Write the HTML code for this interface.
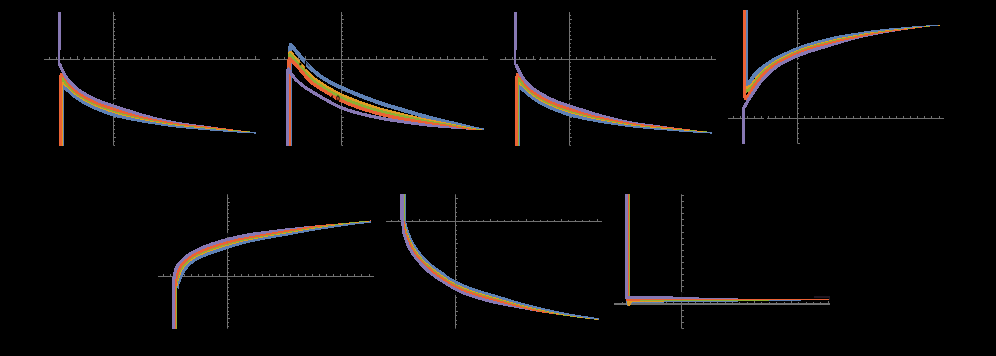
<!DOCTYPE html>
<html><head><meta charset="utf-8"><title>plots</title>
<style>html,body{margin:0;padding:0;background:#000;font-family:"Liberation Sans",sans-serif;}body{width:996px;height:356px;overflow:hidden}</style></head>
<body>
<svg width="996" height="356" viewBox="0 0 996 356" style="display:block">
<rect width="996" height="356" fill="#000"/>
<g fill="#717171">
<rect x="44" y="59" width="36" height="1"/>
<rect x="83" y="59" width="177" height="1"/>
<rect x="113" y="12.00" width="1" height="133.60"/>
<rect x="49" y="57" width="1" height="2"/>
<rect x="56" y="57" width="1" height="2"/>
<rect x="63" y="57" width="1" height="2"/>
<rect x="70" y="57" width="1" height="2"/>
<rect x="77" y="56" width="1" height="3"/>
<rect x="84" y="57" width="1" height="2"/>
<rect x="91" y="57" width="1" height="2"/>
<rect x="98" y="57" width="1" height="2"/>
<rect x="105" y="57" width="1" height="2"/>
<rect x="120" y="57" width="1" height="2"/>
<rect x="127" y="57" width="1" height="2"/>
<rect x="134" y="57" width="1" height="2"/>
<rect x="141" y="57" width="1" height="2"/>
<rect x="148" y="56" width="1" height="3"/>
<rect x="155" y="57" width="1" height="2"/>
<rect x="162" y="57" width="1" height="2"/>
<rect x="169" y="57" width="1" height="2"/>
<rect x="176" y="57" width="1" height="2"/>
<rect x="184" y="56" width="1" height="3"/>
<rect x="191" y="57" width="1" height="2"/>
<rect x="198" y="57" width="1" height="2"/>
<rect x="205" y="57" width="1" height="2"/>
<rect x="212" y="57" width="1" height="2"/>
<rect x="219" y="56" width="1" height="3"/>
<rect x="226" y="57" width="1" height="2"/>
<rect x="233" y="57" width="1" height="2"/>
<rect x="240" y="57" width="1" height="2"/>
<rect x="247" y="57" width="1" height="2"/>
<rect x="255" y="56" width="1" height="3"/>
<rect x="114" y="15" width="1" height="1"/>
<rect x="114" y="19" width="2" height="1"/>
<rect x="114" y="23" width="1" height="1"/>
<rect x="114" y="27" width="1" height="1"/>
<rect x="114" y="31" width="1" height="1"/>
<rect x="114" y="35" width="1" height="1"/>
<rect x="114" y="39" width="2" height="1"/>
<rect x="114" y="43" width="1" height="1"/>
<rect x="114" y="47" width="1" height="1"/>
<rect x="114" y="51" width="1" height="1"/>
<rect x="114" y="55" width="1" height="1"/>
<rect x="114" y="62" width="1" height="1"/>
<rect x="114" y="66" width="1" height="1"/>
<rect x="114" y="70" width="1" height="1"/>
<rect x="114" y="74" width="1" height="1"/>
<rect x="114" y="78" width="2" height="1"/>
<rect x="114" y="82" width="1" height="1"/>
<rect x="114" y="86" width="1" height="1"/>
<rect x="114" y="90" width="1" height="1"/>
<rect x="114" y="94" width="1" height="1"/>
<rect x="114" y="98" width="2" height="1"/>
<rect x="114" y="102" width="1" height="1"/>
<rect x="114" y="106" width="1" height="1"/>
<rect x="114" y="109" width="1" height="1"/>
<rect x="114" y="113" width="1" height="1"/>
<rect x="114" y="117" width="2" height="1"/>
<rect x="114" y="121" width="1" height="1"/>
<rect x="114" y="125" width="1" height="1"/>
<rect x="114" y="129" width="1" height="1"/>
<rect x="114" y="133" width="1" height="1"/>
<rect x="114" y="137" width="2" height="1"/>
<rect x="114" y="141" width="1" height="1"/>
<rect x="114" y="145" width="1" height="1"/>
<rect x="272" y="59" width="216" height="1"/>
<rect x="341" y="12.00" width="1" height="133.60"/>
<rect x="277" y="57" width="1" height="2"/>
<rect x="284" y="57" width="1" height="2"/>
<rect x="291" y="57" width="1" height="2"/>
<rect x="298" y="57" width="1" height="2"/>
<rect x="305" y="56" width="1" height="3"/>
<rect x="312" y="57" width="1" height="2"/>
<rect x="319" y="57" width="1" height="2"/>
<rect x="326" y="57" width="1" height="2"/>
<rect x="333" y="57" width="1" height="2"/>
<rect x="348" y="57" width="1" height="2"/>
<rect x="355" y="57" width="1" height="2"/>
<rect x="362" y="57" width="1" height="2"/>
<rect x="369" y="57" width="1" height="2"/>
<rect x="376" y="56" width="1" height="3"/>
<rect x="383" y="57" width="1" height="2"/>
<rect x="390" y="57" width="1" height="2"/>
<rect x="397" y="57" width="1" height="2"/>
<rect x="404" y="57" width="1" height="2"/>
<rect x="412" y="56" width="1" height="3"/>
<rect x="419" y="57" width="1" height="2"/>
<rect x="426" y="57" width="1" height="2"/>
<rect x="433" y="57" width="1" height="2"/>
<rect x="440" y="57" width="1" height="2"/>
<rect x="447" y="56" width="1" height="3"/>
<rect x="454" y="57" width="1" height="2"/>
<rect x="461" y="57" width="1" height="2"/>
<rect x="468" y="57" width="1" height="2"/>
<rect x="475" y="57" width="1" height="2"/>
<rect x="483" y="56" width="1" height="3"/>
<rect x="342" y="15" width="1" height="1"/>
<rect x="342" y="19" width="2" height="1"/>
<rect x="342" y="23" width="1" height="1"/>
<rect x="342" y="27" width="1" height="1"/>
<rect x="342" y="31" width="1" height="1"/>
<rect x="342" y="35" width="1" height="1"/>
<rect x="342" y="39" width="2" height="1"/>
<rect x="342" y="43" width="1" height="1"/>
<rect x="342" y="47" width="1" height="1"/>
<rect x="342" y="51" width="1" height="1"/>
<rect x="342" y="55" width="1" height="1"/>
<rect x="342" y="62" width="1" height="1"/>
<rect x="342" y="66" width="1" height="1"/>
<rect x="342" y="70" width="1" height="1"/>
<rect x="342" y="74" width="1" height="1"/>
<rect x="342" y="78" width="2" height="1"/>
<rect x="342" y="82" width="1" height="1"/>
<rect x="342" y="86" width="1" height="1"/>
<rect x="342" y="90" width="1" height="1"/>
<rect x="342" y="94" width="1" height="1"/>
<rect x="342" y="98" width="2" height="1"/>
<rect x="342" y="102" width="1" height="1"/>
<rect x="342" y="106" width="1" height="1"/>
<rect x="342" y="109" width="1" height="1"/>
<rect x="342" y="113" width="1" height="1"/>
<rect x="342" y="117" width="2" height="1"/>
<rect x="342" y="121" width="1" height="1"/>
<rect x="342" y="125" width="1" height="1"/>
<rect x="342" y="129" width="1" height="1"/>
<rect x="342" y="133" width="1" height="1"/>
<rect x="342" y="137" width="2" height="1"/>
<rect x="342" y="141" width="1" height="1"/>
<rect x="342" y="145" width="1" height="1"/>
<rect x="500" y="59" width="36" height="1"/>
<rect x="539" y="59" width="177" height="1"/>
<rect x="569" y="12.00" width="1" height="133.60"/>
<rect x="505" y="57" width="1" height="2"/>
<rect x="512" y="57" width="1" height="2"/>
<rect x="519" y="57" width="1" height="2"/>
<rect x="526" y="57" width="1" height="2"/>
<rect x="533" y="56" width="1" height="3"/>
<rect x="540" y="57" width="1" height="2"/>
<rect x="547" y="57" width="1" height="2"/>
<rect x="554" y="57" width="1" height="2"/>
<rect x="561" y="57" width="1" height="2"/>
<rect x="576" y="57" width="1" height="2"/>
<rect x="583" y="57" width="1" height="2"/>
<rect x="590" y="57" width="1" height="2"/>
<rect x="597" y="57" width="1" height="2"/>
<rect x="604" y="56" width="1" height="3"/>
<rect x="611" y="57" width="1" height="2"/>
<rect x="618" y="57" width="1" height="2"/>
<rect x="625" y="57" width="1" height="2"/>
<rect x="632" y="57" width="1" height="2"/>
<rect x="640" y="56" width="1" height="3"/>
<rect x="647" y="57" width="1" height="2"/>
<rect x="654" y="57" width="1" height="2"/>
<rect x="661" y="57" width="1" height="2"/>
<rect x="668" y="57" width="1" height="2"/>
<rect x="675" y="56" width="1" height="3"/>
<rect x="682" y="57" width="1" height="2"/>
<rect x="689" y="57" width="1" height="2"/>
<rect x="696" y="57" width="1" height="2"/>
<rect x="703" y="57" width="1" height="2"/>
<rect x="711" y="56" width="1" height="3"/>
<rect x="570" y="15" width="1" height="1"/>
<rect x="570" y="19" width="2" height="1"/>
<rect x="570" y="23" width="1" height="1"/>
<rect x="570" y="27" width="1" height="1"/>
<rect x="570" y="31" width="1" height="1"/>
<rect x="570" y="35" width="1" height="1"/>
<rect x="570" y="39" width="2" height="1"/>
<rect x="570" y="43" width="1" height="1"/>
<rect x="570" y="47" width="1" height="1"/>
<rect x="570" y="51" width="1" height="1"/>
<rect x="570" y="55" width="1" height="1"/>
<rect x="570" y="62" width="1" height="1"/>
<rect x="570" y="66" width="1" height="1"/>
<rect x="570" y="70" width="1" height="1"/>
<rect x="570" y="74" width="1" height="1"/>
<rect x="570" y="78" width="2" height="1"/>
<rect x="570" y="82" width="1" height="1"/>
<rect x="570" y="86" width="1" height="1"/>
<rect x="570" y="90" width="1" height="1"/>
<rect x="570" y="94" width="1" height="1"/>
<rect x="570" y="98" width="2" height="1"/>
<rect x="570" y="102" width="1" height="1"/>
<rect x="570" y="106" width="1" height="1"/>
<rect x="570" y="109" width="1" height="1"/>
<rect x="570" y="113" width="1" height="1"/>
<rect x="570" y="117" width="2" height="1"/>
<rect x="570" y="121" width="1" height="1"/>
<rect x="570" y="125" width="1" height="1"/>
<rect x="570" y="129" width="1" height="1"/>
<rect x="570" y="133" width="1" height="1"/>
<rect x="570" y="137" width="2" height="1"/>
<rect x="570" y="141" width="1" height="1"/>
<rect x="570" y="145" width="1" height="1"/>
<rect x="728" y="118" width="36" height="1"/>
<rect x="767" y="118" width="177" height="1"/>
<rect x="797" y="10.00" width="1" height="133.60"/>
<rect x="733" y="116" width="1" height="2"/>
<rect x="740" y="116" width="1" height="2"/>
<rect x="747" y="116" width="1" height="2"/>
<rect x="754" y="116" width="1" height="2"/>
<rect x="761" y="116" width="1" height="2"/>
<rect x="768" y="116" width="1" height="2"/>
<rect x="775" y="116" width="1" height="2"/>
<rect x="782" y="116" width="1" height="2"/>
<rect x="789" y="116" width="1" height="2"/>
<rect x="804" y="116" width="1" height="2"/>
<rect x="811" y="116" width="1" height="2"/>
<rect x="818" y="116" width="1" height="2"/>
<rect x="825" y="116" width="1" height="2"/>
<rect x="832" y="116" width="1" height="2"/>
<rect x="839" y="116" width="1" height="2"/>
<rect x="846" y="116" width="1" height="2"/>
<rect x="853" y="116" width="1" height="2"/>
<rect x="860" y="116" width="1" height="2"/>
<rect x="868" y="116" width="1" height="2"/>
<rect x="875" y="116" width="1" height="2"/>
<rect x="882" y="116" width="1" height="2"/>
<rect x="889" y="116" width="1" height="2"/>
<rect x="896" y="116" width="1" height="2"/>
<rect x="903" y="116" width="1" height="2"/>
<rect x="910" y="116" width="1" height="2"/>
<rect x="917" y="116" width="1" height="2"/>
<rect x="924" y="116" width="1" height="2"/>
<rect x="931" y="116" width="1" height="2"/>
<rect x="939" y="116" width="1" height="2"/>
<rect x="798" y="13" width="1" height="1"/>
<rect x="798" y="18" width="2" height="1"/>
<rect x="798" y="23" width="1" height="1"/>
<rect x="798" y="28" width="1" height="1"/>
<rect x="798" y="33" width="1" height="1"/>
<rect x="798" y="38" width="1" height="1"/>
<rect x="798" y="43" width="2" height="1"/>
<rect x="798" y="48" width="1" height="1"/>
<rect x="798" y="53" width="1" height="1"/>
<rect x="798" y="58" width="1" height="1"/>
<rect x="798" y="63" width="1" height="1"/>
<rect x="798" y="68" width="2" height="1"/>
<rect x="798" y="73" width="1" height="1"/>
<rect x="798" y="78" width="1" height="1"/>
<rect x="798" y="83" width="1" height="1"/>
<rect x="798" y="88" width="1" height="1"/>
<rect x="798" y="93" width="2" height="1"/>
<rect x="798" y="98" width="1" height="1"/>
<rect x="798" y="103" width="1" height="1"/>
<rect x="798" y="108" width="1" height="1"/>
<rect x="798" y="113" width="1" height="1"/>
<rect x="798" y="123" width="1" height="1"/>
<rect x="798" y="128" width="1" height="1"/>
<rect x="798" y="133" width="1" height="1"/>
<rect x="798" y="138" width="1" height="1"/>
<rect x="798" y="143" width="2" height="1"/>
<rect x="158" y="276" width="216" height="1"/>
<rect x="227" y="194.30" width="1" height="134.30"/>
<rect x="163" y="274" width="1" height="2"/>
<rect x="170" y="274" width="1" height="2"/>
<rect x="177" y="274" width="1" height="2"/>
<rect x="184" y="274" width="1" height="2"/>
<rect x="191" y="274" width="1" height="2"/>
<rect x="198" y="274" width="1" height="2"/>
<rect x="205" y="274" width="1" height="2"/>
<rect x="212" y="274" width="1" height="2"/>
<rect x="219" y="274" width="1" height="2"/>
<rect x="234" y="274" width="1" height="2"/>
<rect x="241" y="274" width="1" height="2"/>
<rect x="248" y="274" width="1" height="2"/>
<rect x="255" y="274" width="1" height="2"/>
<rect x="262" y="274" width="1" height="2"/>
<rect x="269" y="274" width="1" height="2"/>
<rect x="276" y="274" width="1" height="2"/>
<rect x="283" y="274" width="1" height="2"/>
<rect x="290" y="274" width="1" height="2"/>
<rect x="298" y="274" width="1" height="2"/>
<rect x="305" y="274" width="1" height="2"/>
<rect x="312" y="274" width="1" height="2"/>
<rect x="319" y="274" width="1" height="2"/>
<rect x="326" y="274" width="1" height="2"/>
<rect x="333" y="274" width="1" height="2"/>
<rect x="340" y="274" width="1" height="2"/>
<rect x="347" y="274" width="1" height="2"/>
<rect x="354" y="274" width="1" height="2"/>
<rect x="361" y="274" width="1" height="2"/>
<rect x="369" y="274" width="1" height="2"/>
<rect x="228" y="198" width="1" height="1"/>
<rect x="228" y="202" width="2" height="1"/>
<rect x="228" y="205" width="1" height="1"/>
<rect x="228" y="209" width="1" height="1"/>
<rect x="228" y="213" width="1" height="1"/>
<rect x="228" y="217" width="1" height="1"/>
<rect x="228" y="221" width="2" height="1"/>
<rect x="228" y="225" width="1" height="1"/>
<rect x="228" y="229" width="1" height="1"/>
<rect x="228" y="233" width="1" height="1"/>
<rect x="228" y="237" width="1" height="1"/>
<rect x="228" y="240" width="2" height="1"/>
<rect x="228" y="244" width="1" height="1"/>
<rect x="228" y="248" width="1" height="1"/>
<rect x="228" y="252" width="1" height="1"/>
<rect x="228" y="256" width="1" height="1"/>
<rect x="228" y="260" width="2" height="1"/>
<rect x="228" y="264" width="1" height="1"/>
<rect x="228" y="268" width="1" height="1"/>
<rect x="228" y="272" width="1" height="1"/>
<rect x="228" y="279" width="2" height="1"/>
<rect x="228" y="283" width="1" height="1"/>
<rect x="228" y="287" width="1" height="1"/>
<rect x="228" y="291" width="1" height="1"/>
<rect x="228" y="295" width="1" height="1"/>
<rect x="228" y="299" width="2" height="1"/>
<rect x="228" y="303" width="1" height="1"/>
<rect x="228" y="307" width="1" height="1"/>
<rect x="228" y="311" width="1" height="1"/>
<rect x="228" y="314" width="1" height="1"/>
<rect x="228" y="318" width="2" height="1"/>
<rect x="228" y="322" width="1" height="1"/>
<rect x="228" y="326" width="1" height="1"/>
<rect x="386" y="221" width="216" height="1"/>
<rect x="455" y="194.30" width="1" height="134.30"/>
<rect x="391" y="220" width="1" height="1"/>
<rect x="398" y="220" width="1" height="1"/>
<rect x="405" y="220" width="1" height="1"/>
<rect x="412" y="220" width="1" height="1"/>
<rect x="419" y="219" width="1" height="2"/>
<rect x="426" y="220" width="1" height="1"/>
<rect x="433" y="220" width="1" height="1"/>
<rect x="440" y="220" width="1" height="1"/>
<rect x="447" y="220" width="1" height="1"/>
<rect x="462" y="220" width="1" height="1"/>
<rect x="469" y="220" width="1" height="1"/>
<rect x="476" y="220" width="1" height="1"/>
<rect x="483" y="220" width="1" height="1"/>
<rect x="490" y="219" width="1" height="2"/>
<rect x="497" y="220" width="1" height="1"/>
<rect x="504" y="220" width="1" height="1"/>
<rect x="511" y="220" width="1" height="1"/>
<rect x="518" y="220" width="1" height="1"/>
<rect x="526" y="219" width="1" height="2"/>
<rect x="533" y="220" width="1" height="1"/>
<rect x="540" y="220" width="1" height="1"/>
<rect x="547" y="220" width="1" height="1"/>
<rect x="554" y="220" width="1" height="1"/>
<rect x="561" y="219" width="1" height="2"/>
<rect x="568" y="220" width="1" height="1"/>
<rect x="575" y="220" width="1" height="1"/>
<rect x="582" y="220" width="1" height="1"/>
<rect x="589" y="220" width="1" height="1"/>
<rect x="597" y="219" width="1" height="2"/>
<rect x="456" y="198" width="2" height="1"/>
<rect x="456" y="203" width="1" height="1"/>
<rect x="456" y="207" width="1" height="1"/>
<rect x="456" y="212" width="1" height="1"/>
<rect x="456" y="216" width="1" height="1"/>
<rect x="456" y="225" width="1" height="1"/>
<rect x="456" y="230" width="1" height="1"/>
<rect x="456" y="234" width="1" height="1"/>
<rect x="456" y="239" width="1" height="1"/>
<rect x="456" y="243" width="2" height="1"/>
<rect x="456" y="248" width="1" height="1"/>
<rect x="456" y="252" width="1" height="1"/>
<rect x="456" y="257" width="1" height="1"/>
<rect x="456" y="261" width="1" height="1"/>
<rect x="456" y="266" width="2" height="1"/>
<rect x="456" y="270" width="1" height="1"/>
<rect x="456" y="275" width="1" height="1"/>
<rect x="456" y="279" width="1" height="1"/>
<rect x="456" y="284" width="1" height="1"/>
<rect x="456" y="288" width="2" height="1"/>
<rect x="456" y="293" width="1" height="1"/>
<rect x="456" y="297" width="1" height="1"/>
<rect x="456" y="302" width="1" height="1"/>
<rect x="456" y="306" width="1" height="1"/>
<rect x="456" y="311" width="2" height="1"/>
<rect x="456" y="315" width="1" height="1"/>
<rect x="456" y="320" width="1" height="1"/>
<rect x="456" y="324" width="1" height="1"/>
<rect x="614" y="303" width="216" height="2"/>
<rect x="681" y="194.30" width="1" height="134.30"/>
<rect x="622" y="302" width="1" height="1"/>
<rect x="629" y="302" width="1" height="1"/>
<rect x="636" y="302" width="1" height="1"/>
<rect x="644" y="301" width="1" height="2"/>
<rect x="651" y="302" width="1" height="1"/>
<rect x="658" y="302" width="1" height="1"/>
<rect x="666" y="302" width="1" height="1"/>
<rect x="673" y="302" width="1" height="1"/>
<rect x="688" y="302" width="1" height="1"/>
<rect x="695" y="302" width="1" height="1"/>
<rect x="703" y="302" width="1" height="1"/>
<rect x="710" y="302" width="1" height="1"/>
<rect x="717" y="301" width="1" height="2"/>
<rect x="725" y="302" width="1" height="1"/>
<rect x="732" y="302" width="1" height="1"/>
<rect x="739" y="302" width="1" height="1"/>
<rect x="747" y="302" width="1" height="1"/>
<rect x="754" y="301" width="1" height="2"/>
<rect x="761" y="302" width="1" height="1"/>
<rect x="769" y="302" width="1" height="1"/>
<rect x="776" y="302" width="1" height="1"/>
<rect x="784" y="302" width="1" height="1"/>
<rect x="791" y="301" width="1" height="2"/>
<rect x="798" y="302" width="1" height="1"/>
<rect x="806" y="302" width="1" height="1"/>
<rect x="813" y="302" width="1" height="1"/>
<rect x="820" y="302" width="1" height="1"/>
<rect x="828" y="301" width="1" height="2"/>
<rect x="682" y="195" width="2" height="1"/>
<rect x="682" y="201" width="2" height="1"/>
<rect x="682" y="207" width="2" height="1"/>
<rect x="682" y="213" width="2" height="1"/>
<rect x="682" y="219" width="2" height="1"/>
<rect x="682" y="225" width="2" height="1"/>
<rect x="682" y="232" width="2" height="1"/>
<rect x="682" y="238" width="2" height="1"/>
<rect x="682" y="244" width="2" height="1"/>
<rect x="682" y="250" width="2" height="1"/>
<rect x="682" y="256" width="2" height="1"/>
<rect x="682" y="262" width="2" height="1"/>
<rect x="682" y="268" width="2" height="1"/>
<rect x="682" y="274" width="2" height="1"/>
<rect x="682" y="280" width="2" height="1"/>
<rect x="682" y="286" width="2" height="1"/>
<rect x="682" y="292" width="2" height="1"/>
<rect x="682" y="298" width="2" height="1"/>
<rect x="682" y="310" width="2" height="1"/>
<rect x="682" y="316" width="2" height="1"/>
<rect x="682" y="322" width="2" height="1"/>
<rect x="682" y="328" width="2" height="1"/>
</g>
<g fill="none" stroke-linejoin="round" stroke-linecap="butt" shape-rendering="crispEdges">
<path d="M62.05 145.60 L62.05 89.00 L63.70 86.00 L65.12 87.80 L66.71 89.39 L68.54 90.73 L70.36 92.09 L72.05 93.62 L73.72 95.16 L75.48 96.59 L77.30 97.93 L79.17 99.23 L81.07 100.49 L83.01 101.70 L84.97 102.85 L86.95 103.94 L88.96 104.97 L91.01 105.93 L93.09 106.85 L95.19 107.73 L97.30 108.59 L99.42 109.43 L101.53 110.26 L103.64 111.10 L105.76 111.92 L107.90 112.72 L110.04 113.47 L112.20 114.16 L114.37 114.78 L116.56 115.34 L118.78 115.86 L121.00 116.35 L123.22 116.82 L125.44 117.29 L127.67 117.75 L129.89 118.20 L132.12 118.63 L134.35 119.06 L136.58 119.47 L138.82 119.88 L141.05 120.27 L143.29 120.66 L145.53 121.04 L147.77 121.41 L150.01 121.77 L152.25 122.13 L154.49 122.47 L156.74 122.81 L158.98 123.15 L161.23 123.47 L163.48 123.79 L165.73 124.11 L167.97 124.42 L170.22 124.73 L172.48 125.02 L174.73 125.30 L176.98 125.55 L179.24 125.79 L181.50 126.02 L183.76 126.24 L186.02 126.46 L188.28 126.67 L190.54 126.87 L192.80 127.06 L195.07 127.25 L197.33 127.43 L199.59 127.62 L201.85 127.80 L204.12 127.99 L206.38 128.17 L208.64 128.35 L210.90 128.54 L213.17 128.72 L215.43 128.91 L217.69 129.09 L219.95 129.28 L222.22 129.46 L224.48 129.64 L226.74 129.80 L229.01 129.96 L231.27 130.12 L233.54 130.27 L235.80 130.42 L238.07 130.57 L240.33 130.71 L242.60 130.85 L244.87 130.99 L247.13 131.12 L249.40 131.25 L251.67 131.37 L253.93 131.49 L256.20 131.60" stroke="#5E81B5" stroke-width="4.00" />
<path d="M61.05 145.60 L61.05 85.00 L63.00 82.40 L64.78 83.83 L66.57 85.25 L68.34 86.69 L70.07 88.18 L71.72 89.76 L73.35 91.38 L75.05 92.88 L76.84 94.26 L78.70 95.58 L80.61 96.86 L82.55 98.09 L84.52 99.27 L86.51 100.39 L88.51 101.45 L90.55 102.47 L92.62 103.44 L94.71 104.37 L96.82 105.27 L98.94 106.13 L101.05 106.98 L103.18 107.80 L105.32 108.59 L107.48 109.36 L109.64 110.11 L111.81 110.81 L113.99 111.49 L116.17 112.12 L118.38 112.73 L120.59 113.31 L122.80 113.87 L125.01 114.42 L127.23 114.97 L129.45 115.50 L131.67 116.02 L133.90 116.52 L136.13 117.01 L138.36 117.48 L140.60 117.94 L142.84 118.38 L145.08 118.81 L147.32 119.23 L149.57 119.64 L151.81 120.05 L154.06 120.45 L156.31 120.84 L158.56 121.22 L160.81 121.59 L163.07 121.96 L165.32 122.33 L167.57 122.69 L169.83 123.04 L172.09 123.38 L174.35 123.69 L176.61 123.98 L178.87 124.26 L181.14 124.52 L183.41 124.77 L185.68 125.01 L187.95 125.24 L190.22 125.45 L192.50 125.66 L194.77 125.86 L197.05 126.06 L199.32 126.26 L201.59 126.46 L203.87 126.67 L206.14 126.87 L208.41 127.07 L210.69 127.28 L212.96 127.48 L215.23 127.69 L217.50 127.90 L219.78 128.11 L222.05 128.31 L224.33 128.50 L226.60 128.69 L228.87 128.87 L231.15 129.05 L233.43 129.23 L235.70 129.40 L237.98 129.57 L240.25 129.73 L242.53 129.89 L244.81 130.05 L247.09 130.20 L249.36 130.34 L251.64 130.48 L253.92 130.61 L256.20 130.74" stroke="#E19C24" stroke-width="3.40" />
<path d="M60.80 145.60 L60.80 81.50 L62.30 78.85 L63.97 80.45 L65.49 82.18 L66.96 83.96 L68.60 85.58 L70.28 87.17 L71.91 88.82 L73.56 90.45 L75.29 91.94 L77.11 93.34 L79.00 94.68 L80.93 95.96 L82.90 97.19 L84.90 98.37 L86.92 99.50 L88.94 100.58 L91.01 101.61 L93.10 102.59 L95.22 103.54 L97.35 104.45 L99.48 105.32 L101.63 106.17 L103.79 106.98 L105.96 107.77 L108.14 108.53 L110.33 109.26 L112.53 109.97 L114.74 110.65 L116.95 111.31 L119.17 111.94 L121.40 112.54 L123.63 113.14 L125.87 113.72 L128.10 114.29 L130.34 114.85 L132.59 115.39 L134.84 115.92 L137.09 116.43 L139.34 116.92 L141.60 117.39 L143.87 117.85 L146.13 118.29 L148.40 118.73 L150.67 119.16 L152.94 119.59 L155.21 120.00 L157.48 120.41 L159.76 120.81 L162.03 121.20 L164.31 121.58 L166.59 121.97 L168.86 122.34 L171.14 122.70 L173.43 123.04 L175.71 123.36 L178.00 123.65 L180.30 123.93 L182.59 124.19 L184.89 124.45 L187.18 124.69 L189.48 124.92 L191.78 125.14 L194.08 125.34 L196.38 125.55 L198.68 125.75 L200.97 125.97 L203.27 126.18 L205.57 126.39 L207.87 126.60 L210.17 126.82 L212.47 127.03 L214.77 127.24 L217.07 127.46 L219.37 127.68 L221.66 127.89 L223.96 128.10 L226.26 128.30 L228.56 128.49 L230.87 128.68 L233.17 128.86 L235.47 129.05 L237.77 129.22 L240.07 129.40 L242.38 129.56 L244.68 129.73 L246.98 129.88 L249.29 130.03 L251.59 130.18 L253.90 130.32 L256.20 130.45" stroke="#8FB032" stroke-width="3.30" />
<path d="M60.55 145.60 L60.55 77.00 L61.50 74.50 L63.33 75.97 L64.98 77.62 L66.49 79.44 L67.75 81.40 L68.85 83.50 L70.08 85.47 L71.60 87.23 L73.31 88.87 L75.10 90.39 L76.93 91.81 L78.84 93.18 L80.80 94.49 L82.80 95.74 L84.83 96.94 L86.87 98.09 L88.93 99.20 L91.01 100.26 L93.13 101.27 L95.27 102.25 L97.43 103.18 L99.59 104.07 L101.77 104.93 L103.96 105.74 L106.18 106.52 L108.40 107.28 L110.63 108.01 L112.86 108.73 L115.09 109.44 L117.33 110.13 L119.58 110.80 L121.83 111.45 L124.09 112.09 L126.34 112.71 L128.61 113.32 L130.87 113.91 L133.15 114.49 L135.42 115.05 L137.70 115.59 L139.99 116.11 L142.28 116.60 L144.57 117.08 L146.87 117.55 L149.17 118.01 L151.46 118.47 L153.76 118.92 L156.07 119.36 L158.37 119.79 L160.68 120.21 L162.98 120.62 L165.29 121.03 L167.60 121.43 L169.91 121.83 L172.22 122.20 L174.54 122.55 L176.86 122.87 L179.18 123.18 L181.51 123.46 L183.84 123.73 L186.17 123.99 L188.50 124.24 L190.83 124.47 L193.16 124.69 L195.50 124.91 L197.83 125.12 L200.16 125.34 L202.50 125.56 L204.83 125.78 L207.16 126.01 L209.49 126.23 L211.83 126.46 L214.16 126.68 L216.49 126.91 L218.82 127.14 L221.16 127.37 L223.49 127.59 L225.82 127.80 L228.16 128.00 L230.49 128.20 L232.83 128.40 L235.16 128.60 L237.50 128.79 L239.83 128.97 L242.17 129.15 L244.51 129.32 L246.85 129.49 L249.18 129.65 L251.52 129.80 L253.86 129.95 L256.20 130.09" stroke="#EB6235" stroke-width="3.30" />
<path d="M59.60 63.80 L60.43 66.08 L61.45 68.29 L62.53 70.47 L63.63 72.66 L64.76 74.82 L65.99 76.90 L67.38 78.88 L68.93 80.77 L70.53 82.60 L72.16 84.43 L73.86 86.18 L75.67 87.75 L77.58 89.23 L79.57 90.63 L81.63 91.96 L83.73 93.24 L85.84 94.47 L87.96 95.65 L90.09 96.80 L92.26 97.91 L94.46 98.98 L96.67 100.00 L98.91 100.96 L101.16 101.85 L103.44 102.69 L105.74 103.47 L108.05 104.23 L110.37 104.98 L112.69 105.73 L114.99 106.50 L117.30 107.28 L119.60 108.06 L121.91 108.82 L124.23 109.56 L126.55 110.28 L128.88 110.98 L131.21 111.67 L133.55 112.34 L135.90 112.98 L138.25 113.59 L140.61 114.17 L142.98 114.73 L145.35 115.27 L147.72 115.80 L150.10 116.32 L152.47 116.84 L154.85 117.34 L157.23 117.84 L159.62 118.33 L162.00 118.80 L164.39 119.27 L166.77 119.74 L169.16 120.19 L171.56 120.63 L173.95 121.03 L176.35 121.40 L178.76 121.75 L181.17 122.08 L183.58 122.38 L186.00 122.68 L188.41 122.95 L190.83 123.21 L193.25 123.45 L195.67 123.68 L198.09 123.91 L200.51 124.15 L202.93 124.40 L205.35 124.65 L207.77 124.91 L210.19 125.16 L212.61 125.41 L215.02 125.67 L217.44 125.92 L219.86 126.18 L222.28 126.43 L224.70 126.67 L227.12 126.90 L229.54 127.14 L231.96 127.37 L234.38 127.59 L236.80 127.81 L239.23 128.02 L241.65 128.23 L244.07 128.43 L246.50 128.62 L248.92 128.80 L251.35 128.97 L253.77 129.14 L256.20 129.30" stroke="#8778B3" stroke-width="3.30" />
<path d="M59.50 12.00 L59.50 49.60" stroke="#8778B3" stroke-width="3.00" />
<path d="M59.00 49.60 L59.00 65.20" stroke="#8778B3" stroke-width="2.00" />
<path d="M100.00 96.30 L101.68 96.96 L103.36 97.62 L105.04 98.28 L106.72 98.94 L108.40 99.60 L110.08 100.26 L111.76 100.92 L113.44 101.58 L115.12 102.24 L116.79 102.91 L118.47 103.58 L120.15 104.25 L121.83 104.91 L123.51 105.55 L125.21 106.17 L126.91 106.78 L128.61 107.38 L130.32 107.97 L132.03 108.54 L133.74 109.11 L135.46 109.66 L137.18 110.20 L138.91 110.73 L140.63 111.25 L142.36 111.77 L144.10 112.27 L145.84 112.76 L147.58 113.24 L149.32 113.72 L151.06 114.18 L152.81 114.64 L154.56 115.08 L156.31 115.52 L158.06 115.95 L159.82 116.37 L161.57 116.78 L163.33 117.19 L165.09 117.60 L166.85 118.00 L168.61 118.39 L170.38 118.78 L172.14 119.15 L173.91 119.50 L175.69 119.82" stroke="#000" stroke-width="3.30" />
<path d="M175.97 118.25 L177.73 118.56 L179.50 118.86 L181.28 119.15 L183.05 119.43 L184.83 119.70 L186.61 119.96 L188.38 120.21 L190.16 120.45 L191.94 120.67 L193.73 120.90 L195.52 121.12 L197.32 121.34 L199.12 121.57 L200.92 121.81 L202.71 122.06 L204.50 122.32 L206.29 122.59 L208.07 122.85 L209.86 123.11 L211.64 123.37 L213.42 123.61 L215.20 123.84 L216.98 124.07 L218.77 124.30 L220.56 124.53 L222.35 124.75 L224.15 124.98 L225.94 125.21 L227.74 125.45 L229.53 125.69 L231.32 125.93 L233.11 126.17 L234.89 126.42 L236.68 126.66 L238.46 126.89 L240.25 127.12 L242.03 127.34 L243.81 127.56 L245.60 127.76 L247.38 127.95 L249.17 128.13 L250.96 128.31 L252.75 128.48 L254.55 128.65 L256.34 128.81 L257.84 128.94" stroke="#000" stroke-width="6.50" />
<path d="M290.35 145.60 L290.35 47.30 L290.90 44.80 L292.42 46.70 L293.94 48.59 L295.48 50.48 L297.03 52.35 L298.59 54.21 L300.15 56.08 L301.71 57.96 L303.27 59.84 L304.84 61.72 L306.43 63.56 L308.06 65.36 L309.73 67.11 L311.45 68.79 L313.24 70.42 L315.08 72.03 L316.97 73.59 L318.90 75.10 L320.86 76.54 L322.86 77.92 L324.88 79.21 L326.96 80.45 L329.07 81.63 L331.22 82.78 L333.40 83.88 L335.60 84.96 L337.80 86.02 L340.01 87.05 L342.21 88.08 L344.42 89.09 L346.64 90.08 L348.87 91.05 L351.11 92.00 L353.36 92.93 L355.61 93.85 L357.87 94.75 L360.13 95.65 L362.39 96.54 L364.65 97.42 L366.92 98.29 L369.20 99.15 L371.48 100.00 L373.77 100.83 L376.06 101.65 L378.35 102.44 L380.65 103.22 L382.96 103.97 L385.27 104.71 L387.59 105.44 L389.92 106.15 L392.25 106.85 L394.58 107.54 L396.91 108.23 L399.25 108.91 L401.58 109.59 L403.91 110.28 L406.25 110.97 L408.58 111.66 L410.91 112.35 L413.24 113.04 L415.57 113.73 L417.90 114.42 L420.24 115.09 L422.58 115.76 L424.92 116.42 L427.26 117.06 L429.61 117.70 L431.96 118.31 L434.31 118.91 L436.67 119.50 L439.03 120.08 L441.39 120.65 L443.76 121.21 L446.12 121.77 L448.49 122.33 L450.86 122.90 L453.22 123.47 L455.58 124.04 L457.94 124.63 L460.30 125.22 L462.66 125.82 L465.01 126.42 L467.37 127.00 L469.73 127.57 L472.10 128.13 L474.47 128.66 L476.85 129.17 L479.23 129.66 L481.61 130.14 L484.00 130.60" stroke="#5E81B5" stroke-width="4.00" />
<path d="M289.40 145.60 L289.40 54.80 L290.30 52.30 L291.87 54.14 L293.44 55.97 L295.01 57.81 L296.59 59.64 L298.17 61.46 L299.75 63.29 L301.30 65.16 L302.85 67.04 L304.40 68.92 L305.96 70.78 L307.56 72.59 L309.21 74.33 L310.93 75.98 L312.73 77.54 L314.61 79.04 L316.55 80.49 L318.55 81.89 L320.57 83.24 L322.61 84.55 L324.65 85.84 L326.70 87.10 L328.78 88.33 L330.88 89.54 L333.00 90.72 L335.13 91.86 L337.28 92.97 L339.45 94.05 L341.62 95.09 L343.81 96.09 L346.01 97.06 L348.24 98.00 L350.48 98.92 L352.73 99.81 L354.99 100.68 L357.25 101.53 L359.52 102.37 L361.78 103.19 L364.06 104.00 L366.34 104.80 L368.63 105.58 L370.92 106.35 L373.22 107.10 L375.53 107.82 L377.84 108.52 L380.15 109.20 L382.47 109.86 L384.80 110.49 L387.13 111.11 L389.47 111.71 L391.82 112.30 L394.16 112.88 L396.51 113.45 L398.86 114.01 L401.21 114.57 L403.56 115.13 L405.91 115.69 L408.26 116.25 L410.61 116.80 L412.97 117.35 L415.32 117.90 L417.68 118.44 L420.03 118.97 L422.39 119.49 L424.75 120.01 L427.11 120.52 L429.47 121.02 L431.84 121.51 L434.20 121.99 L436.57 122.45 L438.94 122.91 L441.32 123.36 L443.69 123.80 L446.07 124.25 L448.44 124.70 L450.81 125.15 L453.18 125.61 L455.55 126.08 L457.92 126.57 L460.28 127.07 L462.64 127.57 L465.01 128.08 L467.37 128.57 L469.74 129.06 L472.10 129.53 L474.48 129.98 L476.85 130.41 L479.23 130.82 L481.62 131.22 L484.00 131.61" stroke="#E19C24" stroke-width="3.40" />
<path d="M289.25 145.60 L289.25 57.00 L290.00 54.50 L291.52 56.38 L293.06 58.24 L294.60 60.11 L296.15 61.96 L297.71 63.80 L299.27 65.64 L300.83 67.51 L302.37 69.40 L303.91 71.29 L305.47 73.16 L307.07 74.98 L308.71 76.74 L310.42 78.40 L312.21 79.96 L314.09 81.44 L316.05 82.85 L318.07 84.22 L320.12 85.54 L322.18 86.84 L324.23 88.11 L326.28 89.38 L328.35 90.64 L330.43 91.88 L332.53 93.09 L334.65 94.27 L336.78 95.41 L338.93 96.52 L341.09 97.57 L343.27 98.58 L345.48 99.55 L347.70 100.49 L349.95 101.40 L352.20 102.28 L354.47 103.14 L356.74 103.98 L359.02 104.80 L361.29 105.60 L363.57 106.39 L365.86 107.17 L368.16 107.93 L370.46 108.66 L372.77 109.38 L375.09 110.08 L377.41 110.75 L379.73 111.40 L382.06 112.02 L384.40 112.62 L386.75 113.20 L389.10 113.76 L391.45 114.31 L393.81 114.85 L396.17 115.37 L398.53 115.89 L400.89 116.41 L403.26 116.92 L405.62 117.43 L407.98 117.94 L410.34 118.44 L412.71 118.94 L415.07 119.43 L417.44 119.92 L419.81 120.40 L422.18 120.87 L424.55 121.34 L426.92 121.80 L429.29 122.25 L431.67 122.69 L434.04 123.12 L436.42 123.54 L438.80 123.95 L441.19 124.36 L443.57 124.76 L445.95 125.16 L448.33 125.57 L450.71 125.98 L453.09 126.40 L455.47 126.84 L457.85 127.28 L460.22 127.75 L462.59 128.22 L464.96 128.69 L467.33 129.16 L469.70 129.61 L472.08 130.05 L474.46 130.47 L476.84 130.87 L479.22 131.25 L481.61 131.63 L484.00 131.99" stroke="#8FB032" stroke-width="3.30" />
<path d="M288.95 145.60 L288.95 60.70 L289.30 58.20 L290.98 59.93 L292.64 61.67 L294.30 63.42 L295.95 65.18 L297.59 66.94 L299.22 68.72 L300.80 70.55 L302.35 72.43 L303.89 74.32 L305.43 76.21 L307.00 78.05 L308.62 79.81 L310.32 81.47 L312.10 83.00 L314.00 84.44 L315.99 85.80 L318.03 87.11 L320.11 88.39 L322.19 89.65 L324.25 90.91 L326.30 92.18 L328.35 93.44 L330.42 94.70 L332.50 95.94 L334.59 97.15 L336.70 98.32 L338.82 99.44 L340.97 100.50 L343.14 101.51 L345.34 102.47 L347.57 103.40 L349.81 104.30 L352.07 105.17 L354.33 106.01 L356.61 106.82 L358.88 107.62 L361.16 108.39 L363.44 109.15 L365.74 109.90 L368.04 110.62 L370.35 111.33 L372.66 112.01 L374.98 112.67 L377.31 113.30 L379.64 113.91 L381.97 114.48 L384.31 115.04 L386.66 115.57 L389.01 116.09 L391.37 116.59 L393.73 117.08 L396.10 117.56 L398.46 118.03 L400.83 118.49 L403.20 118.95 L405.56 119.41 L407.93 119.86 L410.30 120.31 L412.66 120.74 L415.04 121.17 L417.41 121.60 L419.78 122.02 L422.16 122.43 L424.53 122.83 L426.91 123.24 L429.28 123.63 L431.66 124.02 L434.04 124.40 L436.42 124.77 L438.80 125.13 L441.19 125.48 L443.57 125.84 L445.95 126.19 L448.34 126.55 L450.72 126.92 L453.10 127.29 L455.48 127.68 L457.85 128.09 L460.22 128.51 L462.60 128.94 L464.97 129.37 L467.34 129.80 L469.71 130.22 L472.08 130.63 L474.46 131.01 L476.84 131.38 L479.23 131.73 L481.61 132.07 L484.00 132.40" stroke="#EB6235" stroke-width="3.30" />
<path d="M287.70 145.60 L287.70 71.50 L288.30 69.00 L289.50 71.06 L290.78 73.07 L292.12 75.03 L293.54 76.95 L295.07 78.77 L296.73 80.47 L298.50 82.08 L300.31 83.62 L302.17 85.11 L304.08 86.54 L306.02 87.90 L308.02 89.20 L310.04 90.46 L312.07 91.71 L314.10 92.95 L316.14 94.19 L318.18 95.41 L320.24 96.61 L322.30 97.79 L324.38 98.95 L326.46 100.12 L328.54 101.29 L330.64 102.46 L332.74 103.60 L334.85 104.71 L336.98 105.77 L339.13 106.77 L341.31 107.68 L343.51 108.53 L345.74 109.34 L348.00 110.11 L350.27 110.84 L352.56 111.54 L354.85 112.20 L357.15 112.84 L359.45 113.46 L361.76 114.05 L364.06 114.61 L366.38 115.16 L368.71 115.68 L371.03 116.19 L373.37 116.68 L375.70 117.15 L378.04 117.62 L380.37 118.07 L382.71 118.52 L385.05 118.95 L387.39 119.38 L389.74 119.79 L392.08 120.20 L394.43 120.59 L396.78 120.98 L399.13 121.37 L401.48 121.74 L403.83 122.12 L406.19 122.49 L408.54 122.85 L410.89 123.20 L413.25 123.55 L415.60 123.90 L417.96 124.24 L420.32 124.57 L422.67 124.90 L425.03 125.23 L427.39 125.55 L429.75 125.87 L432.11 126.18 L434.47 126.47 L436.84 126.76 L439.20 127.04 L441.57 127.32 L443.93 127.60 L446.29 127.88 L448.66 128.17 L451.02 128.46 L453.38 128.78 L455.73 129.11 L458.09 129.46 L460.44 129.85 L462.79 130.24 L465.13 130.65 L467.48 131.04 L469.83 131.43 L472.18 131.78 L474.54 132.10 L476.90 132.40 L479.27 132.69 L481.63 132.95 L484.00 133.20" stroke="#8778B3" stroke-width="3.30" />
<path d="M341.60 113.50 L343.15 113.97 L344.71 114.42 L346.26 114.87 L347.82 115.31 L349.38 115.74 L350.94 116.15 L352.51 116.56 L354.08 116.95 L355.65 117.33 L357.22 117.69 L358.80 118.04 L360.37 118.38 L361.95 118.70 L363.54 119.01 L365.13 119.31 L366.72 119.61 L368.31 119.89 L369.90 120.17 L371.50 120.44 L373.09 120.70 L374.69 120.96 L376.29 121.22 L377.89 121.47 L379.48 121.72 L381.08 121.97 L382.68 122.21 L384.28 122.45 L385.88 122.68 L387.48 122.92 L389.08 123.14 L390.68 123.37 L392.28 123.59 L393.88 123.81 L395.48 124.03 L397.08 124.24 L398.69 124.46 L400.29 124.67 L401.89 124.89 L403.50 125.10 L405.10 125.31 L406.70 125.53 L408.30 125.75 L409.90 125.97 L411.51 126.19 L413.11 126.42 L414.71 126.64 L416.31 126.86 L417.91 127.08 L419.52 127.29 L421.12 127.50" stroke="#000" stroke-width="3.30" />
<path d="M420.92 129.08 L422.53 129.28 L424.14 129.48 L425.76 129.67 L427.37 129.84 L428.99 130.01 L430.61 130.16 L432.22 130.31 L433.83 130.46 L435.45 130.59 L437.06 130.73 L438.68 130.86 L440.30 130.98 L441.91 131.10 L443.53 131.22 L445.14 131.34 L446.76 131.45 L448.37 131.56 L449.99 131.67 L451.60 131.78 L453.22 131.89 L454.83 131.99 L456.44 132.10 L458.05 132.22 L459.66 132.33 L461.27 132.45 L462.89 132.57 L464.51 132.68 L466.13 132.78 L467.76 132.88 L469.38 132.96 L471.01 133.03 L472.65 133.08 L474.27 133.11 L475.89 133.13 L477.51 133.15 L479.13 133.17 L480.75 133.19 L482.38 133.20 L484.00 133.20 L485.50 133.20" stroke="#000" stroke-width="6.50" />
<path d="M518.25 145.60 L518.25 89.00 L519.90 86.00 L521.32 87.80 L522.91 89.39 L524.74 90.73 L526.56 92.09 L528.25 93.62 L529.92 95.16 L531.68 96.59 L533.50 97.93 L535.37 99.23 L537.27 100.49 L539.21 101.70 L541.17 102.85 L543.15 103.94 L545.16 104.97 L547.21 105.93 L549.29 106.85 L551.39 107.73 L553.50 108.59 L555.62 109.43 L557.73 110.26 L559.84 111.10 L561.96 111.92 L564.10 112.72 L566.24 113.47 L568.40 114.16 L570.57 114.78 L572.76 115.34 L574.98 115.86 L577.20 116.35 L579.42 116.82 L581.64 117.29 L583.87 117.75 L586.09 118.20 L588.32 118.63 L590.55 119.06 L592.78 119.47 L595.02 119.88 L597.25 120.27 L599.49 120.66 L601.73 121.04 L603.97 121.41 L606.21 121.77 L608.45 122.13 L610.69 122.47 L612.94 122.81 L615.18 123.15 L617.43 123.47 L619.68 123.79 L621.93 124.11 L624.17 124.42 L626.42 124.73 L628.68 125.02 L630.93 125.30 L633.18 125.55 L635.44 125.79 L637.70 126.02 L639.96 126.24 L642.22 126.46 L644.48 126.67 L646.74 126.87 L649.00 127.06 L651.27 127.25 L653.53 127.43 L655.79 127.62 L658.05 127.80 L660.32 127.99 L662.58 128.17 L664.84 128.35 L667.10 128.54 L669.37 128.72 L671.63 128.91 L673.89 129.09 L676.15 129.28 L678.42 129.46 L680.68 129.64 L682.94 129.80 L685.21 129.96 L687.47 130.12 L689.74 130.27 L692.00 130.42 L694.27 130.57 L696.53 130.71 L698.80 130.85 L701.07 130.99 L703.33 131.12 L705.60 131.25 L707.87 131.37 L710.13 131.49 L712.40 131.60" stroke="#5E81B5" stroke-width="4.00" />
<path d="M517.25 145.60 L517.25 85.00 L519.20 82.40 L520.98 83.83 L522.77 85.25 L524.54 86.69 L526.27 88.18 L527.92 89.76 L529.55 91.38 L531.25 92.88 L533.04 94.26 L534.90 95.58 L536.81 96.86 L538.75 98.09 L540.72 99.27 L542.71 100.39 L544.71 101.45 L546.75 102.47 L548.82 103.44 L550.91 104.37 L553.02 105.27 L555.14 106.13 L557.25 106.98 L559.38 107.80 L561.52 108.59 L563.68 109.36 L565.84 110.11 L568.01 110.81 L570.19 111.49 L572.37 112.12 L574.58 112.73 L576.79 113.31 L579.00 113.87 L581.21 114.42 L583.43 114.97 L585.65 115.50 L587.87 116.02 L590.10 116.52 L592.33 117.01 L594.56 117.48 L596.80 117.94 L599.04 118.38 L601.28 118.81 L603.52 119.23 L605.77 119.64 L608.01 120.05 L610.26 120.45 L612.51 120.84 L614.76 121.22 L617.01 121.59 L619.27 121.96 L621.52 122.33 L623.77 122.69 L626.03 123.04 L628.29 123.38 L630.55 123.69 L632.81 123.98 L635.07 124.26 L637.34 124.52 L639.61 124.77 L641.88 125.01 L644.15 125.24 L646.42 125.45 L648.70 125.66 L650.97 125.86 L653.25 126.06 L655.52 126.26 L657.79 126.46 L660.07 126.67 L662.34 126.87 L664.61 127.07 L666.89 127.28 L669.16 127.48 L671.43 127.69 L673.70 127.90 L675.98 128.11 L678.25 128.31 L680.53 128.50 L682.80 128.69 L685.07 128.87 L687.35 129.05 L689.63 129.23 L691.90 129.40 L694.18 129.57 L696.45 129.73 L698.73 129.89 L701.01 130.05 L703.29 130.20 L705.56 130.34 L707.84 130.48 L710.12 130.61 L712.40 130.74" stroke="#E19C24" stroke-width="3.40" />
<path d="M517.00 145.60 L517.00 81.50 L518.50 78.85 L520.17 80.45 L521.69 82.18 L523.16 83.96 L524.80 85.58 L526.48 87.17 L528.11 88.82 L529.76 90.45 L531.49 91.94 L533.31 93.34 L535.20 94.68 L537.13 95.96 L539.10 97.19 L541.10 98.37 L543.12 99.50 L545.14 100.58 L547.21 101.61 L549.30 102.59 L551.42 103.54 L553.55 104.45 L555.68 105.32 L557.83 106.17 L559.99 106.98 L562.16 107.77 L564.34 108.53 L566.53 109.26 L568.73 109.97 L570.94 110.65 L573.15 111.31 L575.37 111.94 L577.60 112.54 L579.83 113.14 L582.07 113.72 L584.30 114.29 L586.54 114.85 L588.79 115.39 L591.04 115.92 L593.29 116.43 L595.54 116.92 L597.80 117.39 L600.07 117.85 L602.33 118.29 L604.60 118.73 L606.87 119.16 L609.14 119.59 L611.41 120.00 L613.68 120.41 L615.96 120.81 L618.23 121.20 L620.51 121.58 L622.79 121.97 L625.06 122.34 L627.34 122.70 L629.63 123.04 L631.91 123.36 L634.20 123.65 L636.50 123.93 L638.79 124.19 L641.09 124.45 L643.38 124.69 L645.68 124.92 L647.98 125.14 L650.28 125.34 L652.58 125.55 L654.88 125.75 L657.17 125.97 L659.47 126.18 L661.77 126.39 L664.07 126.60 L666.37 126.82 L668.67 127.03 L670.97 127.24 L673.27 127.46 L675.57 127.68 L677.86 127.89 L680.16 128.10 L682.46 128.30 L684.76 128.49 L687.07 128.68 L689.37 128.86 L691.67 129.05 L693.97 129.22 L696.27 129.40 L698.58 129.56 L700.88 129.73 L703.18 129.88 L705.49 130.03 L707.79 130.18 L710.10 130.32 L712.40 130.45" stroke="#8FB032" stroke-width="3.30" />
<path d="M516.75 145.60 L516.75 77.00 L517.70 74.50 L519.53 75.97 L521.18 77.62 L522.69 79.44 L523.95 81.40 L525.05 83.50 L526.28 85.47 L527.80 87.23 L529.51 88.87 L531.30 90.39 L533.13 91.81 L535.04 93.18 L537.00 94.49 L539.00 95.74 L541.03 96.94 L543.07 98.09 L545.13 99.20 L547.21 100.26 L549.33 101.27 L551.47 102.25 L553.63 103.18 L555.79 104.07 L557.97 104.93 L560.16 105.74 L562.38 106.52 L564.60 107.28 L566.83 108.01 L569.06 108.73 L571.29 109.44 L573.53 110.13 L575.78 110.80 L578.03 111.45 L580.29 112.09 L582.54 112.71 L584.81 113.32 L587.07 113.91 L589.35 114.49 L591.62 115.05 L593.90 115.59 L596.19 116.11 L598.48 116.60 L600.77 117.08 L603.07 117.55 L605.37 118.01 L607.66 118.47 L609.96 118.92 L612.27 119.36 L614.57 119.79 L616.88 120.21 L619.18 120.62 L621.49 121.03 L623.80 121.43 L626.11 121.83 L628.42 122.20 L630.74 122.55 L633.06 122.87 L635.38 123.18 L637.71 123.46 L640.04 123.73 L642.37 123.99 L644.70 124.24 L647.03 124.47 L649.36 124.69 L651.70 124.91 L654.03 125.12 L656.36 125.34 L658.70 125.56 L661.03 125.78 L663.36 126.01 L665.69 126.23 L668.03 126.46 L670.36 126.68 L672.69 126.91 L675.02 127.14 L677.36 127.37 L679.69 127.59 L682.02 127.80 L684.36 128.00 L686.69 128.20 L689.03 128.40 L691.36 128.60 L693.70 128.79 L696.03 128.97 L698.37 129.15 L700.71 129.32 L703.05 129.49 L705.38 129.65 L707.72 129.80 L710.06 129.95 L712.40 130.09" stroke="#EB6235" stroke-width="3.30" />
<path d="M515.80 63.80 L516.63 66.08 L517.65 68.29 L518.73 70.47 L519.83 72.66 L520.96 74.82 L522.19 76.90 L523.58 78.88 L525.13 80.77 L526.73 82.60 L528.36 84.43 L530.06 86.18 L531.87 87.75 L533.78 89.23 L535.77 90.63 L537.83 91.96 L539.93 93.24 L542.04 94.47 L544.16 95.65 L546.29 96.80 L548.46 97.91 L550.66 98.98 L552.87 100.00 L555.11 100.96 L557.36 101.85 L559.64 102.69 L561.94 103.47 L564.25 104.23 L566.57 104.98 L568.89 105.73 L571.19 106.50 L573.50 107.28 L575.80 108.06 L578.11 108.82 L580.43 109.56 L582.75 110.28 L585.08 110.98 L587.41 111.67 L589.75 112.34 L592.10 112.98 L594.45 113.59 L596.81 114.17 L599.18 114.73 L601.55 115.27 L603.92 115.80 L606.30 116.32 L608.67 116.84 L611.05 117.34 L613.43 117.84 L615.82 118.33 L618.20 118.80 L620.59 119.27 L622.97 119.74 L625.36 120.19 L627.76 120.63 L630.15 121.03 L632.55 121.40 L634.96 121.75 L637.37 122.08 L639.78 122.38 L642.20 122.68 L644.61 122.95 L647.03 123.21 L649.45 123.45 L651.87 123.68 L654.29 123.91 L656.71 124.15 L659.13 124.40 L661.55 124.65 L663.97 124.91 L666.39 125.16 L668.81 125.41 L671.22 125.67 L673.64 125.92 L676.06 126.18 L678.48 126.43 L680.90 126.67 L683.32 126.90 L685.74 127.14 L688.16 127.37 L690.58 127.59 L693.00 127.81 L695.43 128.02 L697.85 128.23 L700.27 128.43 L702.70 128.62 L705.12 128.80 L707.55 128.97 L709.97 129.14 L712.40 129.30" stroke="#8778B3" stroke-width="3.30" />
<path d="M515.70 12.00 L515.70 49.60" stroke="#8778B3" stroke-width="3.00" />
<path d="M515.20 49.60 L515.20 65.20" stroke="#8778B3" stroke-width="2.00" />
<path d="M556.20 96.30 L557.88 96.96 L559.56 97.62 L561.24 98.28 L562.92 98.94 L564.60 99.60 L566.28 100.26 L567.96 100.92 L569.64 101.58 L571.32 102.24 L572.99 102.91 L574.67 103.58 L576.35 104.25 L578.03 104.91 L579.71 105.55 L581.41 106.17 L583.11 106.78 L584.81 107.38 L586.52 107.97 L588.23 108.54 L589.94 109.11 L591.66 109.66 L593.38 110.20 L595.11 110.73 L596.83 111.25 L598.56 111.77 L600.30 112.27 L602.04 112.76 L603.78 113.24 L605.52 113.72 L607.26 114.18 L609.01 114.64 L610.76 115.08 L612.51 115.52 L614.26 115.95 L616.02 116.37 L617.77 116.78 L619.53 117.19 L621.29 117.60 L623.05 118.00 L624.81 118.39 L626.58 118.78 L628.34 119.15 L630.11 119.50 L631.89 119.82" stroke="#000" stroke-width="3.30" />
<path d="M632.17 118.25 L633.93 118.56 L635.70 118.86 L637.48 119.15 L639.25 119.43 L641.03 119.70 L642.81 119.96 L644.58 120.21 L646.36 120.45 L648.14 120.67 L649.93 120.90 L651.72 121.12 L653.52 121.34 L655.32 121.57 L657.12 121.81 L658.91 122.06 L660.70 122.32 L662.49 122.59 L664.27 122.85 L666.06 123.11 L667.84 123.37 L669.62 123.61 L671.40 123.84 L673.18 124.07 L674.97 124.30 L676.76 124.53 L678.55 124.75 L680.35 124.98 L682.14 125.21 L683.94 125.45 L685.73 125.69 L687.52 125.93 L689.31 126.17 L691.09 126.42 L692.88 126.66 L694.66 126.89 L696.45 127.12 L698.23 127.34 L700.01 127.56 L701.80 127.76 L703.58 127.95 L705.37 128.13 L707.16 128.31 L708.95 128.48 L710.75 128.65 L712.54 128.81 L714.04 128.94" stroke="#000" stroke-width="6.50" />
<path d="M746.30 10.00 L746.30 83.20 L748.20 84.30 L749.32 82.53 L750.48 80.79 L751.65 79.05 L752.85 77.34 L754.10 75.66 L755.39 74.00 L756.76 72.44 L758.26 71.01 L759.85 69.65 L761.51 68.35 L763.21 67.09 L764.91 65.87 L766.61 64.66 L768.34 63.47 L770.08 62.31 L771.85 61.18 L773.64 60.08 L775.45 59.03 L777.27 58.02 L779.12 57.06 L781.00 56.16 L782.90 55.28 L784.82 54.43 L786.75 53.60 L788.67 52.77 L790.59 51.94 L792.51 51.10 L794.44 50.27 L796.37 49.48 L798.33 48.74 L800.29 48.03 L802.26 47.34 L804.25 46.66 L806.24 46.01 L808.23 45.37 L810.23 44.75 L812.24 44.15 L814.25 43.56 L816.26 43.00 L818.28 42.46 L820.31 41.95 L822.34 41.44 L824.37 40.95 L826.41 40.46 L828.44 39.97 L830.48 39.47 L832.51 38.96 L834.54 38.47 L836.58 38.00 L838.63 37.57 L840.68 37.18 L842.74 36.82 L844.80 36.50 L846.87 36.19 L848.95 35.89 L851.02 35.59 L853.09 35.29 L855.16 34.97 L857.23 34.64 L859.29 34.30 L861.35 33.95 L863.42 33.61 L865.49 33.29 L867.56 32.99 L869.63 32.72 L871.70 32.46 L873.78 32.21 L875.86 31.97 L877.94 31.73 L880.02 31.50 L882.10 31.27 L884.18 31.04 L886.26 30.82 L888.34 30.60 L890.42 30.39 L892.51 30.20 L894.59 30.02 L896.67 29.85 L898.76 29.69 L900.85 29.53 L902.93 29.37 L905.02 29.20 L907.10 29.02 L909.19 28.83 L911.27 28.63 L913.35 28.44 L915.44 28.26 L917.52 28.10 L919.61 27.95 L921.70 27.80 L923.78 27.67 L925.87 27.54 L927.96 27.41 L930.05 27.30 L932.14 27.19 L934.23 27.08 L936.32 26.98 L938.41 26.89 L940.50 26.80" stroke="#5E81B5" stroke-width="4.00" />
<path d="M744.60 10.00 L744.60 87.00 L747.30 88.00 L749.17 86.92 L750.87 85.67 L752.41 84.29 L753.75 82.68 L755.02 80.98 L756.27 79.28 L757.52 77.59 L758.84 75.95 L760.21 74.34 L761.66 72.82 L763.19 71.41 L764.78 70.04 L766.41 68.70 L768.08 67.40 L769.79 66.14 L771.53 64.92 L773.30 63.74 L775.08 62.61 L776.87 61.51 L778.67 60.47 L780.52 59.48 L782.40 58.53 L784.30 57.61 L786.22 56.72 L788.15 55.85 L790.06 54.97 L791.98 54.10 L793.91 53.24 L795.84 52.41 L797.80 51.64 L799.76 50.89 L801.74 50.17 L803.72 49.47 L805.72 48.78 L807.72 48.12 L809.73 47.47 L811.74 46.84 L813.75 46.24 L815.77 45.65 L817.80 45.09 L819.84 44.55 L821.88 44.03 L823.92 43.52 L825.97 43.02 L828.01 42.51 L830.05 42.00 L832.10 41.49 L834.14 40.99 L836.19 40.50 L838.24 40.03 L840.30 39.60 L842.37 39.19 L844.43 38.81 L846.51 38.44 L848.58 38.08 L850.66 37.72 L852.73 37.36 L854.81 36.99 L856.88 36.61 L858.95 36.22 L861.02 35.83 L863.09 35.44 L865.16 35.07 L867.23 34.72 L869.31 34.40 L871.40 34.08 L873.48 33.78 L875.57 33.49 L877.65 33.21 L879.74 32.93 L881.83 32.66 L883.92 32.39 L886.00 32.13 L888.09 31.87 L890.19 31.62 L892.28 31.38 L894.37 31.16 L896.46 30.95 L898.56 30.75 L900.66 30.55 L902.75 30.35 L904.85 30.14 L906.94 29.91 L909.03 29.68 L911.13 29.45 L913.22 29.22 L915.31 29.00 L917.41 28.79 L919.50 28.60 L921.60 28.41 L923.70 28.23 L925.80 28.06 L927.90 27.90 L930.00 27.74 L932.10 27.59 L934.20 27.44 L936.30 27.30 L938.40 27.17 L940.50 27.04" stroke="#E19C24" stroke-width="3.40" />
<path d="M744.60 10.00 L744.60 90.00 L746.70 91.00 L748.57 89.91 L750.27 88.64 L751.77 87.20 L753.10 85.52 L754.37 83.80 L755.61 82.07 L756.87 80.36 L758.15 78.66 L759.47 76.99 L760.85 75.38 L762.29 73.79 L763.80 72.31 L765.37 70.91 L766.99 69.53 L768.66 68.19 L770.36 66.89 L772.10 65.64 L773.86 64.43 L775.64 63.26 L777.44 62.15 L779.26 61.09 L781.13 60.09 L783.03 59.13 L784.95 58.19 L786.88 57.29 L788.82 56.39 L790.75 55.49 L792.68 54.61 L794.63 53.75 L796.59 52.92 L798.56 52.15 L800.55 51.40 L802.55 50.67 L804.55 49.96 L806.57 49.28 L808.59 48.61 L810.62 47.96 L812.65 47.33 L814.68 46.72 L816.72 46.13 L818.77 45.58 L820.83 45.04 L822.89 44.52 L824.96 44.00 L827.02 43.49 L829.08 42.97 L831.15 42.46 L833.21 41.94 L835.28 41.44 L837.35 40.95 L839.42 40.49 L841.50 40.06 L843.58 39.65 L845.67 39.25 L847.77 38.87 L849.86 38.49 L851.95 38.11 L854.04 37.73 L856.13 37.33 L858.22 36.93 L860.31 36.52 L862.39 36.11 L864.48 35.72 L866.57 35.34 L868.67 34.99 L870.77 34.66 L872.87 34.34 L874.97 34.03 L877.08 33.73 L879.18 33.43 L881.29 33.14 L883.40 32.86 L885.50 32.58 L887.61 32.30 L889.72 32.04 L891.83 31.79 L893.95 31.54 L896.06 31.32 L898.17 31.10 L900.29 30.89 L902.40 30.67 L904.52 30.45 L906.63 30.21 L908.74 29.97 L910.86 29.72 L912.97 29.48 L915.08 29.24 L917.19 29.01 L919.31 28.81 L921.43 28.61 L923.54 28.42 L925.66 28.23 L927.78 28.05 L929.90 27.88 L932.02 27.71 L934.14 27.55 L936.26 27.40 L938.38 27.25 L940.50 27.11" stroke="#8FB032" stroke-width="3.30" />
<path d="M744.70 10.00 L744.70 97.30 L745.50 98.30 L747.03 96.73 L748.46 95.08 L749.76 93.35 L750.91 91.50 L752.01 89.60 L753.17 87.75 L754.41 85.96 L755.68 84.19 L756.99 82.44 L758.33 80.72 L759.66 78.98 L761.02 77.28 L762.45 75.64 L763.94 74.03 L765.49 72.50 L767.11 71.06 L768.77 69.64 L770.48 68.26 L772.22 66.93 L774.00 65.64 L775.80 64.41 L777.63 63.25 L779.49 62.15 L781.40 61.10 L783.34 60.09 L785.30 59.12 L787.28 58.18 L789.26 57.24 L791.23 56.31 L793.21 55.40 L795.21 54.52 L797.23 53.68 L799.25 52.89 L801.29 52.12 L803.34 51.38 L805.40 50.65 L807.47 49.94 L809.55 49.26 L811.63 48.60 L813.71 47.96 L815.80 47.34 L817.90 46.75 L820.00 46.19 L822.12 45.64 L824.24 45.11 L826.35 44.58 L828.47 44.04 L830.58 43.51 L832.70 42.98 L834.82 42.46 L836.94 41.95 L839.06 41.46 L841.19 41.00 L843.33 40.55 L845.47 40.12 L847.61 39.71 L849.75 39.30 L851.90 38.89 L854.04 38.47 L856.18 38.05 L858.32 37.61 L860.45 37.18 L862.59 36.74 L864.73 36.32 L866.88 35.92 L869.02 35.55 L871.17 35.19 L873.33 34.85 L875.49 34.52 L877.64 34.19 L879.80 33.87 L881.96 33.56 L884.12 33.25 L886.28 32.95 L888.44 32.66 L890.60 32.38 L892.77 32.11 L894.93 31.85 L897.10 31.61 L899.27 31.37 L901.44 31.14 L903.61 30.90 L905.78 30.65 L907.94 30.39 L910.11 30.12 L912.27 29.85 L914.44 29.59 L916.60 29.34 L918.77 29.10 L920.94 28.88 L923.11 28.67 L925.28 28.46 L927.46 28.26 L929.63 28.07 L931.80 27.88 L933.98 27.70 L936.15 27.53 L938.32 27.36 L940.50 27.20" stroke="#EB6235" stroke-width="3.30" />
<path d="M743.75 143.70 L743.75 108.00 L745.30 105.60 L746.28 103.60 L747.33 101.64 L748.43 99.71 L749.62 97.84 L750.88 96.00 L752.15 94.17 L753.38 92.32 L754.61 90.47 L755.84 88.62 L757.09 86.77 L758.34 84.92 L759.64 83.12 L761.04 81.41 L762.56 79.79 L764.12 78.20 L765.67 76.60 L767.22 75.00 L768.78 73.40 L770.37 71.85 L772.01 70.36 L773.70 68.90 L775.44 67.50 L777.22 66.19 L779.07 64.99 L780.98 63.86 L782.92 62.77 L784.90 61.74 L786.90 60.73 L788.90 59.74 L790.90 58.76 L792.91 57.81 L794.93 56.89 L796.98 56.01 L799.04 55.19 L801.11 54.38 L803.19 53.60 L805.29 52.85 L807.39 52.11 L809.50 51.40 L811.61 50.70 L813.73 50.04 L815.86 49.39 L817.99 48.78 L820.14 48.20 L822.29 47.63 L824.45 47.08 L826.60 46.53 L828.76 45.98 L830.91 45.43 L833.07 44.88 L835.23 44.35 L837.39 43.82 L839.55 43.31 L841.72 42.80 L843.89 42.31 L846.06 41.84 L848.23 41.36 L850.40 40.89 L852.58 40.43 L854.75 39.95 L856.92 39.48 L859.09 38.99 L861.26 38.51 L863.44 38.04 L865.61 37.58 L867.79 37.14 L869.98 36.73 L872.16 36.33 L874.36 35.95 L876.55 35.57 L878.74 35.21 L880.94 34.85 L883.13 34.50 L885.33 34.15 L887.53 33.82 L889.73 33.49 L891.93 33.18 L894.13 32.88 L896.34 32.59 L898.54 32.31 L900.75 32.04 L902.96 31.76 L905.16 31.48 L907.36 31.18 L909.57 30.87 L911.77 30.56 L913.97 30.26 L916.18 29.97 L918.38 29.69 L920.59 29.43 L922.80 29.18 L925.01 28.93 L927.22 28.69 L929.43 28.46 L931.64 28.23 L933.86 28.01 L936.07 27.80 L938.28 27.60 L940.50 27.40" stroke="#8778B3" stroke-width="3.30" />
<path d="M797.50 61.65 L798.96 60.84 L800.44 60.05 L801.91 59.28 L803.40 58.52 L804.90 57.79 L806.40 57.07 L807.90 56.37 L809.42 55.69 L810.94 55.04 L812.47 54.40 L814.01 53.79 L815.55 53.19 L817.10 52.63 L818.67 52.08 L820.24 51.56 L821.83 51.06 L823.42 50.56 L825.01 50.08 L826.60 49.59 L828.20 49.11 L829.79 48.62 L831.37 48.12 L832.96 47.63 L834.55 47.14 L836.13 46.65" stroke="#000" stroke-width="3.30" />
<path d="M836.60 48.18 L838.19 47.70 L839.77 47.22 L841.36 46.75 L842.95 46.29 L844.54 45.82 L846.14 45.36 L847.73 44.90 L849.32 44.45 L850.91 44.00 L852.51 43.57 L854.10 43.14 L855.70 42.72 L857.30 42.31 L858.91 41.91 L860.51 41.51 L862.12 41.12 L863.73 40.74 L865.34 40.37 L866.95 40.01 L868.57 39.66 L870.18 39.31 L871.80 38.98 L873.42 38.65 L875.05 38.33 L876.67 38.01 L878.30 37.70 L879.93 37.39 L881.56 37.09 L883.19 36.79 L884.82 36.49 L886.45 36.20 L888.08 35.92 L889.71 35.64 L891.35 35.36 L892.98 35.09 L894.61 34.83 L896.25 34.58 L897.89 34.33 L899.53 34.08 L901.17 33.84 L902.81 33.60 L904.46 33.35 L906.11 33.10 L907.75 32.85 L909.39 32.59 L911.03 32.33 L912.67 32.08 L914.31 31.83 L915.95 31.59 L917.59 31.35 L919.23 31.12 L920.88 30.88 L922.52 30.64 L924.16 30.41 L925.79 30.19 L927.41 30.00 L929.03 29.83 L930.66 29.71 L932.31 29.59 L933.96 29.48 L935.60 29.39 L937.24 29.30 L938.89 29.24 L940.54 29.20 L942.04 29.16" stroke="#000" stroke-width="6.50" />
<path d="M176.60 288.30 L176.90 286.33 L177.34 284.41 L177.92 282.53 L178.69 280.69 L179.50 278.88 L180.38 277.11 L181.23 275.31 L182.02 273.48 L182.85 271.67 L183.79 269.96 L184.96 268.38 L186.28 266.89 L187.62 265.42 L188.98 263.97 L190.42 262.62 L191.97 261.41 L193.61 260.27 L195.30 259.22 L197.02 258.25 L198.78 257.36 L200.58 256.52 L202.40 255.73 L204.23 254.97 L206.07 254.23 L207.91 253.52 L209.77 252.83 L211.64 252.16 L213.50 251.50 L215.37 250.84 L217.24 250.20 L219.12 249.57 L221.00 248.95 L222.89 248.34 L224.77 247.74 L226.66 247.14 L228.55 246.54 L230.43 245.94 L232.32 245.33 L234.21 244.74 L236.10 244.16 L238.00 243.59 L239.90 243.05 L241.81 242.54 L243.73 242.04 L245.65 241.56 L247.58 241.09 L249.51 240.64 L251.44 240.20 L253.37 239.77 L255.31 239.36 L257.25 238.97 L259.19 238.58 L261.13 238.20 L263.08 237.83 L265.02 237.47 L266.97 237.11 L268.92 236.76 L270.87 236.41 L272.82 236.08 L274.77 235.74 L276.72 235.41 L278.68 235.08 L280.63 234.75 L282.58 234.41 L284.53 234.06 L286.48 233.71 L288.42 233.36 L290.37 232.99 L292.32 232.63 L294.26 232.26 L296.21 231.89 L298.15 231.52 L300.10 231.15 L302.04 230.79 L303.99 230.43 L305.94 230.07 L307.89 229.72 L309.84 229.39 L311.79 229.05 L313.74 228.72 L315.70 228.40 L317.65 228.08 L319.60 227.76 L321.56 227.45 L323.51 227.14 L325.47 226.83 L327.43 226.52 L329.38 226.22 L331.34 225.93 L333.30 225.63 L335.26 225.34 L337.22 225.05 L339.17 224.76 L341.13 224.47 L343.09 224.19 L345.05 223.90 L347.01 223.62 L348.97 223.35 L350.94 223.08 L352.90 222.81 L354.86 222.55 L356.83 222.30 L358.79 222.06 L360.76 221.83 L362.72 221.60 L364.69 221.38 L366.66 221.18 L368.63 220.98 L370.60 220.78" stroke="#5E81B5" stroke-width="4.00" />
<path d="M175.34 328.70 L175.34 326.31 L175.34 323.92 L175.34 321.53 L175.34 319.14 L175.34 316.75 L175.35 314.37 L175.35 311.99 L175.35 309.60 L175.35 307.22 L175.36 304.85 L175.36 302.47 L175.37 300.09 L175.37 297.72 L175.38 295.34 L175.39 292.97 L175.40 290.59 L175.49 288.22 L175.77 285.85 L176.15 283.50 L176.70 281.18 L177.39 278.90 L178.19 276.65 L178.98 274.39 L179.79 272.14 L180.75 269.98 L182.00 267.97 L183.45 266.06 L184.97 264.21 L186.61 262.49 L188.38 260.92 L190.26 259.42 L192.21 258.03 L194.21 256.75 L196.27 255.60 L198.40 254.52 L200.57 253.51 L202.77 252.56 L204.96 251.65 L207.18 250.78 L209.41 249.95 L211.66 249.16 L213.92 248.39 L216.17 247.63 L218.44 246.89 L220.71 246.17 L222.98 245.47 L225.26 244.78 L227.55 244.10 L229.83 243.42 L232.11 242.75 L234.40 242.08 L236.70 241.44 L239.00 240.83 L241.31 240.26 L243.63 239.72 L245.95 239.21 L248.28 238.71 L250.62 238.23 L252.95 237.75 L255.28 237.27 L257.62 236.81 L259.95 236.35 L262.29 235.90 L264.64 235.47 L266.98 235.04 L269.32 234.63 L271.67 234.23 L274.02 233.84 L276.37 233.45 L278.72 233.06 L281.07 232.67 L283.42 232.27 L285.76 231.87 L288.11 231.46 L290.46 231.04 L292.80 230.63 L295.14 230.21 L297.49 229.79 L299.83 229.37 L302.18 228.96 L304.53 228.55 L306.87 228.15 L309.22 227.76 L311.57 227.38 L313.92 227.00 L316.27 226.62 L318.63 226.25 L320.98 225.89 L323.34 225.52 L325.69 225.17 L328.05 224.82 L330.40 224.48 L332.76 224.14 L335.12 223.81 L337.48 223.49 L339.84 223.17 L342.20 222.85 L344.56 222.54 L346.92 222.23 L349.29 221.93 L351.65 221.64 L354.01 221.36 L356.38 221.08 L358.75 220.82 L361.11 220.57 L363.48 220.34 L365.85 220.12 L368.23 219.90 L370.60 219.70" stroke="#E19C24" stroke-width="3.40" />
<path d="M175.02 328.70 L175.02 326.30 L175.02 323.90 L175.02 321.50 L175.02 319.11 L175.02 316.71 L175.03 314.32 L175.03 311.93 L175.03 309.53 L175.03 307.14 L175.04 304.75 L175.04 302.36 L175.04 299.97 L175.05 297.58 L175.06 295.20 L175.06 292.81 L175.07 290.42 L175.15 288.03 L175.39 285.65 L175.70 283.28 L176.17 280.93 L176.77 278.61 L177.49 276.33 L178.21 274.03 L178.99 271.76 L179.93 269.59 L181.18 267.55 L182.59 265.61 L184.11 263.74 L185.76 262.03 L187.54 260.43 L189.42 258.91 L191.37 257.50 L193.37 256.20 L195.42 255.02 L197.55 253.92 L199.72 252.89 L201.92 251.91 L204.13 250.98 L206.34 250.09 L208.59 249.25 L210.84 248.45 L213.11 247.67 L215.38 246.91 L217.65 246.17 L219.93 245.45 L222.22 244.75 L224.52 244.07 L226.81 243.39 L229.11 242.73 L231.41 242.06 L233.71 241.41 L236.02 240.78 L238.33 240.17 L240.66 239.61 L242.99 239.08 L245.33 238.58 L247.67 238.10 L250.02 237.63 L252.37 237.16 L254.71 236.69 L257.06 236.22 L259.41 235.76 L261.76 235.31 L264.11 234.87 L266.46 234.45 L268.82 234.04 L271.18 233.63 L273.54 233.24 L275.90 232.85 L278.26 232.46 L280.62 232.07 L282.98 231.68 L285.34 231.28 L287.70 230.88 L290.05 230.47 L292.41 230.06 L294.77 229.64 L297.12 229.23 L299.48 228.82 L301.84 228.41 L304.20 228.01 L306.55 227.62 L308.92 227.23 L311.28 226.85 L313.64 226.48 L316.00 226.10 L318.37 225.74 L320.73 225.37 L323.10 225.01 L325.46 224.66 L327.83 224.31 L330.20 223.98 L332.57 223.64 L334.94 223.32 L337.31 223.01 L339.68 222.69 L342.06 222.38 L344.43 222.08 L346.80 221.78 L349.18 221.49 L351.55 221.21 L353.93 220.93 L356.31 220.67 L358.69 220.42 L361.07 220.18 L363.45 219.95 L365.83 219.74 L368.21 219.53 L370.60 219.34" stroke="#8FB032" stroke-width="3.30" />
<path d="M174.62 328.70 L174.62 326.29 L174.62 323.88 L174.63 321.47 L174.63 319.06 L174.63 316.66 L174.63 314.25 L174.63 311.84 L174.63 309.44 L174.63 307.03 L174.63 304.62 L174.64 302.22 L174.64 299.81 L174.64 297.41 L174.65 295.00 L174.65 292.60 L174.66 290.20 L174.73 287.79 L174.90 285.39 L175.12 282.99 L175.48 280.61 L175.96 278.26 L176.57 275.93 L177.22 273.59 L177.96 271.30 L178.89 269.11 L180.12 267.02 L181.48 265.04 L183.01 263.16 L184.68 261.46 L186.47 259.83 L188.35 258.29 L190.30 256.85 L192.29 255.53 L194.34 254.32 L196.46 253.19 L198.64 252.12 L200.85 251.12 L203.07 250.16 L205.28 249.25 L207.53 248.39 L209.79 247.57 L212.07 246.78 L214.36 246.02 L216.65 245.27 L218.94 244.55 L221.24 243.85 L223.55 243.17 L225.87 242.51 L228.18 241.85 L230.50 241.20 L232.82 240.56 L235.15 239.94 L237.48 239.34 L239.82 238.79 L242.17 238.27 L244.52 237.79 L246.89 237.32 L249.25 236.87 L251.62 236.42 L253.98 235.96 L256.34 235.49 L258.70 235.03 L261.06 234.58 L263.43 234.13 L265.80 233.71 L268.17 233.29 L270.54 232.89 L272.91 232.49 L275.29 232.10 L277.66 231.72 L280.04 231.33 L282.41 230.94 L284.79 230.55 L287.16 230.15 L289.53 229.75 L291.91 229.35 L294.28 228.94 L296.65 228.54 L299.02 228.13 L301.40 227.73 L303.77 227.34 L306.15 226.95 L308.52 226.57 L310.90 226.19 L313.28 225.82 L315.65 225.46 L318.03 225.09 L320.41 224.73 L322.79 224.37 L325.18 224.02 L327.56 223.68 L329.94 223.35 L332.32 223.02 L334.71 222.71 L337.10 222.40 L339.48 222.09 L341.87 221.79 L344.26 221.50 L346.65 221.21 L349.04 220.93 L351.43 220.66 L353.82 220.40 L356.22 220.15 L358.61 219.91 L361.01 219.68 L363.40 219.46 L365.80 219.26 L368.20 219.07 L370.60 218.89" stroke="#EB6235" stroke-width="3.30" />
<path d="M173.75 328.70 L173.75 326.26 L173.75 323.82 L173.75 321.38 L173.75 318.94 L173.75 316.50 L173.75 314.06 L173.75 311.62 L173.75 309.19 L173.75 306.75 L173.75 304.31 L173.75 301.87 L173.75 299.43 L173.75 296.99 L173.75 294.55 L173.75 292.11 L173.75 289.67 L173.75 287.23 L173.75 284.79 L173.76 282.35 L173.80 279.91 L174.04 277.49 L174.42 275.08 L174.94 272.68 L175.60 270.33 L176.46 268.05 L177.57 265.88 L178.92 263.83 L180.47 261.98 L182.16 260.23 L183.97 258.56 L185.87 256.97 L187.83 255.48 L189.83 254.11 L191.87 252.85 L193.98 251.65 L196.16 250.52 L198.38 249.45 L200.62 248.44 L202.87 247.47 L205.12 246.55 L207.39 245.68 L209.69 244.85 L212.01 244.07 L214.33 243.31 L216.66 242.58 L218.99 241.88 L221.33 241.20 L223.69 240.54 L226.04 239.90 L228.40 239.28 L230.76 238.67 L233.13 238.07 L235.50 237.49 L237.88 236.95 L240.26 236.45 L242.66 235.99 L245.06 235.57 L247.46 235.16 L249.87 234.76 L252.28 234.34 L254.67 233.90 L257.07 233.44 L259.47 232.98 L261.86 232.52 L264.26 232.08 L266.66 231.66 L269.07 231.25 L271.47 230.86 L273.88 230.47 L276.29 230.08 L278.70 229.70 L281.11 229.32 L283.52 228.94 L285.93 228.55 L288.34 228.16 L290.74 227.77 L293.15 227.39 L295.56 227.00 L297.97 226.61 L300.38 226.23 L302.79 225.85 L305.20 225.48 L307.61 225.11 L310.02 224.75 L312.44 224.39 L314.85 224.03 L317.26 223.67 L319.68 223.32 L322.09 222.97 L324.51 222.62 L326.92 222.29 L329.34 221.96 L331.76 221.65 L334.18 221.35 L336.60 221.06 L339.02 220.78 L341.45 220.50 L343.87 220.23 L346.30 219.96 L348.72 219.71 L351.15 219.46 L353.58 219.22 L356.01 219.00 L358.44 218.78 L360.87 218.58 L363.30 218.39 L365.73 218.22 L368.17 218.05 L370.60 217.90" stroke="#8778B3" stroke-width="3.30" />
<path d="M215.00 238.00 L216.40 237.64 L217.79 237.29 L219.19 236.94 L220.59 236.60 L221.99 236.27 L223.39 235.95 L224.80 235.64 L226.20 235.33 L227.61 235.03 L229.02 234.74 L230.43 234.45 L231.84 234.17 L233.26 233.90 L234.67 233.63 L236.09 233.37 L237.51 233.12 L238.93 232.88 L240.35 232.64 L241.77 232.42 L243.19 232.20 L244.61 231.99 L246.04 231.79 L247.47 231.59 L248.89 231.39 L250.32 231.20 L251.75 231.00 L253.17 230.81 L254.60 230.62 L256.03 230.43 L257.46 230.25 L258.88 230.07 L260.31 229.88 L261.74 229.71 L263.17 229.53 L264.60 229.35 L266.03 229.17 L267.45 229.00 L268.88 228.82 L270.31 228.64 L271.74 228.47 L273.17 228.29 L274.60 228.12 L276.03 227.94 L277.46 227.77 L278.89 227.60 L280.32 227.44 L281.75 227.27 L283.18 227.11 L284.61 226.94 L286.04 226.78" stroke="#000" stroke-width="3.30" />
<path d="M285.86 225.19 L287.29 225.04 L288.73 224.88 L290.16 224.72 L291.59 224.57 L293.02 224.41 L294.46 224.26 L295.89 224.11 L297.32 223.96 L298.76 223.81 L300.19 223.66 L301.63 223.52 L303.06 223.37 L304.49 223.23 L305.93 223.09 L307.36 222.95 L308.80 222.81 L310.23 222.67 L311.67 222.54 L313.10 222.40 L314.54 222.27 L315.98 222.14 L317.41 222.02 L318.85 221.89 L320.28 221.77 L321.72 221.64 L323.15 221.52 L324.59 221.40 L326.02 221.28 L327.45 221.15 L328.89 221.03 L330.32 220.91 L331.75 220.78 L333.19 220.66 L334.62 220.53 L336.05 220.40 L337.49 220.27 L338.92 220.14 L340.35 220.01 L341.79 219.88 L343.22 219.75 L344.65 219.62 L346.09 219.48 L347.52 219.35 L348.95 219.22 L350.39 219.09 L351.82 218.95 L353.25 218.82 L354.69 218.69 L356.12 218.55 L357.55 218.42 L358.99 218.29 L360.42 218.15 L361.85 218.02 L363.28 217.89 L364.72 217.75 L366.15 217.61 L367.58 217.48 L369.02 217.34 L370.45 217.21 L371.94 217.07" stroke="#000" stroke-width="6.50" />
<path d="M404.00 194.30 L404.00 196.47 L404.00 198.64 L404.00 200.81 L404.00 202.98 L404.00 205.15 L404.00 207.32 L404.00 209.49 L404.00 211.66 L404.00 213.83 L404.01 216.00 L404.08 218.18 L404.21 220.35 L404.42 222.49 L404.85 224.61 L405.43 226.72 L406.08 228.81 L406.72 230.88 L407.43 232.93 L408.20 234.97 L409.04 236.99 L409.93 238.98 L410.86 240.94 L411.84 242.86 L412.87 244.75 L413.98 246.63 L415.15 248.48 L416.38 250.29 L417.66 252.06 L418.98 253.79 L420.32 255.45 L421.73 257.08 L423.20 258.67 L424.72 260.23 L426.29 261.75 L427.90 263.24 L429.54 264.69 L431.20 266.10 L432.87 267.47 L434.58 268.78 L436.37 270.01 L438.19 271.21 L440.00 272.42 L441.78 273.66 L443.50 275.00 L445.18 276.38 L446.89 277.72 L448.67 278.93 L450.53 280.05 L452.43 281.11 L454.36 282.11 L456.31 283.07 L458.26 284.00 L460.24 284.91 L462.23 285.78 L464.23 286.63 L466.24 287.45 L468.26 288.24 L470.29 289.01 L472.33 289.74 L474.38 290.44 L476.45 291.11 L478.52 291.77 L480.59 292.41 L482.67 293.05 L484.75 293.67 L486.83 294.27 L488.92 294.86 L491.01 295.45 L493.10 296.04 L495.18 296.65 L497.26 297.28 L499.33 297.93 L501.40 298.58 L503.47 299.25 L505.54 299.91 L507.61 300.56 L509.68 301.21 L511.75 301.85 L513.83 302.46 L515.92 303.06 L518.01 303.64 L520.10 304.22 L522.19 304.79 L524.29 305.35 L526.39 305.90 L528.49 306.45 L530.60 306.99 L532.70 307.52 L534.81 308.04 L536.92 308.56 L539.02 309.07 L541.13 309.57 L543.25 310.07 L545.36 310.57 L547.47 311.06 L549.59 311.55 L551.71 312.03 L553.83 312.50 L555.95 312.97 L558.07 313.42 L560.20 313.86 L562.32 314.28 L564.45 314.70 L566.58 315.09 L568.72 315.48 L570.85 315.86 L572.99 316.23 L575.13 316.59 L577.28 316.94 L579.42 317.29 L581.56 317.62 L583.71 317.96 L585.86 318.28 L588.00 318.60 L590.15 318.92 L592.30 319.23 L594.45 319.53 L596.60 319.82 L598.75 320.10" stroke="#5E81B5" stroke-width="4.00" />
<path d="M403.16 194.30 L403.16 196.50 L403.16 198.69 L403.16 200.88 L403.16 203.08 L403.16 205.27 L403.16 207.46 L403.16 209.66 L403.16 211.85 L403.16 214.04 L403.18 216.24 L403.27 218.43 L403.40 220.62 L403.61 222.80 L403.94 224.97 L404.37 227.14 L404.86 229.28 L405.39 231.39 L406.03 233.48 L406.76 235.56 L407.57 237.62 L408.44 239.65 L409.34 241.65 L410.27 243.62 L411.27 245.57 L412.34 247.50 L413.47 249.41 L414.66 251.27 L415.90 253.09 L417.17 254.85 L418.51 256.55 L419.92 258.21 L421.39 259.84 L422.93 261.43 L424.50 262.99 L426.11 264.51 L427.73 266.00 L429.37 267.46 L431.04 268.86 L432.76 270.21 L434.53 271.53 L436.30 272.84 L438.06 274.14 L439.82 275.46 L441.59 276.77 L443.36 278.07 L445.15 279.33 L446.97 280.56 L448.81 281.73 L450.70 282.86 L452.61 283.94 L454.55 284.98 L456.51 285.95 L458.49 286.88 L460.49 287.78 L462.51 288.65 L464.54 289.49 L466.58 290.30 L468.63 291.08 L470.69 291.83 L472.76 292.54 L474.85 293.22 L476.94 293.88 L479.04 294.52 L481.14 295.16 L483.25 295.78 L485.35 296.39 L487.46 296.98 L489.58 297.57 L491.69 298.15 L493.81 298.74 L495.92 299.34 L498.02 299.95 L500.13 300.57 L502.23 301.20 L504.34 301.82 L506.44 302.45 L508.54 303.06 L510.65 303.67 L512.76 304.27 L514.88 304.85 L516.99 305.41 L519.11 305.98 L521.24 306.53 L523.36 307.08 L525.49 307.63 L527.61 308.17 L529.74 308.70 L531.87 309.22 L534.01 309.74 L536.14 310.24 L538.27 310.74 L540.41 311.23 L542.55 311.72 L544.69 312.21 L546.83 312.69 L548.97 313.17 L551.12 313.64 L553.26 314.10 L555.41 314.55 L557.56 314.99 L559.71 315.42 L561.86 315.83 L564.02 316.23 L566.18 316.61 L568.34 316.97 L570.50 317.33 L572.67 317.68 L574.84 318.02 L577.01 318.35 L579.18 318.67 L581.35 318.98 L583.52 319.29 L585.69 319.60 L587.87 319.89 L590.04 320.19 L592.22 320.47 L594.39 320.74 L596.57 321.00 L598.75 321.26" stroke="#E19C24" stroke-width="3.40" />
<path d="M402.91 194.30 L402.91 196.50 L402.91 198.70 L402.91 200.91 L402.91 203.11 L402.91 205.31 L402.91 207.51 L402.91 209.71 L402.91 211.91 L402.91 214.11 L402.93 216.31 L403.02 218.51 L403.16 220.70 L403.36 222.89 L403.66 225.09 L404.04 227.26 L404.48 229.41 L404.97 231.54 L405.59 233.65 L406.32 235.74 L407.12 237.81 L407.98 239.85 L408.87 241.87 L409.78 243.85 L410.77 245.82 L411.83 247.77 L412.95 249.69 L414.12 251.57 L415.35 253.40 L416.61 255.16 L417.95 256.88 L419.36 258.55 L420.84 260.19 L422.37 261.80 L423.95 263.37 L425.55 264.90 L427.17 266.40 L428.80 267.87 L430.47 269.30 L432.19 270.68 L433.94 272.02 L435.70 273.35 L437.46 274.67 L439.22 275.98 L441.00 277.28 L442.80 278.57 L444.61 279.82 L446.44 281.04 L448.29 282.22 L450.17 283.36 L452.08 284.47 L454.01 285.53 L455.97 286.52 L457.95 287.46 L459.95 288.37 L461.98 289.25 L464.02 290.10 L466.07 290.91 L468.12 291.70 L470.19 292.45 L472.26 293.17 L474.35 293.86 L476.46 294.52 L478.56 295.16 L480.68 295.79 L482.79 296.41 L484.90 297.02 L487.02 297.62 L489.14 298.21 L491.26 298.79 L493.38 299.37 L495.50 299.97 L497.62 300.57 L499.74 301.18 L501.85 301.79 L503.96 302.40 L506.08 303.02 L508.19 303.62 L510.31 304.22 L512.43 304.81 L514.55 305.39 L516.68 305.95 L518.81 306.51 L520.94 307.06 L523.07 307.61 L525.21 308.15 L527.34 308.68 L529.48 309.21 L531.62 309.73 L533.76 310.24 L535.90 310.75 L538.04 311.25 L540.19 311.73 L542.34 312.22 L544.48 312.70 L546.63 313.18 L548.78 313.65 L550.94 314.12 L553.09 314.58 L555.25 315.03 L557.40 315.46 L559.56 315.89 L561.72 316.29 L563.89 316.69 L566.05 317.06 L568.22 317.42 L570.39 317.77 L572.57 318.12 L574.74 318.45 L576.92 318.77 L579.10 319.09 L581.28 319.39 L583.46 319.70 L585.64 319.99 L587.83 320.28 L590.01 320.57 L592.19 320.84 L594.38 321.11 L596.56 321.36 L598.75 321.61" stroke="#8FB032" stroke-width="3.30" />
<path d="M402.59 194.30 L402.59 196.51 L402.59 198.72 L402.59 200.93 L402.59 203.14 L402.59 205.35 L402.59 207.56 L402.59 209.77 L402.59 211.98 L402.59 214.19 L402.62 216.40 L402.72 218.61 L402.86 220.81 L403.05 223.02 L403.30 225.23 L403.62 227.42 L403.99 229.59 L404.45 231.73 L405.05 233.85 L405.76 235.96 L406.56 238.05 L407.40 240.10 L408.27 242.13 L409.17 244.14 L410.14 246.13 L411.18 248.10 L412.29 250.04 L413.44 251.94 L414.65 253.78 L415.90 255.56 L417.24 257.29 L418.65 258.98 L420.13 260.64 L421.67 262.25 L423.24 263.84 L424.84 265.39 L426.45 266.92 L428.06 268.41 L429.73 269.86 L431.44 271.27 L433.17 272.65 L434.92 274.00 L436.69 275.32 L438.47 276.63 L440.27 277.92 L442.08 279.19 L443.92 280.43 L445.77 281.64 L447.63 282.82 L449.51 283.98 L451.41 285.12 L453.34 286.21 L455.29 287.23 L457.28 288.19 L459.28 289.11 L461.31 290.00 L463.35 290.85 L465.41 291.68 L467.48 292.47 L469.55 293.23 L471.63 293.96 L473.73 294.65 L475.84 295.31 L477.96 295.95 L480.08 296.58 L482.20 297.20 L484.32 297.82 L486.45 298.41 L488.58 299.00 L490.71 299.58 L492.85 300.16 L494.98 300.75 L497.11 301.34 L499.24 301.94 L501.36 302.54 L503.49 303.14 L505.62 303.74 L507.75 304.33 L509.88 304.92 L512.01 305.49 L514.15 306.06 L516.28 306.62 L518.42 307.17 L520.57 307.72 L522.71 308.26 L524.85 308.80 L527.00 309.33 L529.15 309.85 L531.29 310.37 L533.45 310.88 L535.60 311.38 L537.75 311.88 L539.91 312.36 L542.06 312.84 L544.22 313.32 L546.38 313.79 L548.54 314.26 L550.70 314.72 L552.87 315.18 L555.04 315.62 L557.20 316.05 L559.37 316.47 L561.55 316.88 L563.72 317.26 L565.90 317.63 L568.08 317.98 L570.26 318.33 L572.44 318.66 L574.63 318.99 L576.82 319.30 L579.01 319.61 L581.20 319.91 L583.39 320.20 L585.58 320.48 L587.77 320.76 L589.97 321.04 L592.16 321.31 L594.36 321.56 L596.55 321.81 L598.75 322.04" stroke="#EB6235" stroke-width="3.30" />
<path d="M401.90 194.30 L401.90 196.53 L401.90 198.77 L401.90 201.00 L401.90 203.23 L401.90 205.46 L401.90 207.69 L401.90 209.92 L401.90 212.15 L401.90 214.38 L401.93 216.61 L402.06 218.84 L402.20 221.06 L402.34 223.30 L402.48 225.54 L402.66 227.76 L402.90 229.96 L403.26 232.13 L403.82 234.29 L404.51 236.44 L405.29 238.56 L406.11 240.65 L406.94 242.72 L407.79 244.77 L408.72 246.82 L409.72 248.84 L410.78 250.82 L411.90 252.76 L413.06 254.64 L414.30 256.45 L415.63 258.21 L417.06 259.93 L418.54 261.61 L420.08 263.27 L421.64 264.89 L423.21 266.50 L424.78 268.08 L426.37 269.65 L428.00 271.18 L429.68 272.66 L431.39 274.06 L433.15 275.42 L434.94 276.75 L436.76 278.04 L438.60 279.30 L440.47 280.54 L442.35 281.76 L444.24 282.96 L446.13 284.14 L448.03 285.32 L449.93 286.49 L451.85 287.64 L453.79 288.74 L455.77 289.76 L457.78 290.71 L459.81 291.63 L461.86 292.51 L463.94 293.35 L466.03 294.16 L468.12 294.93 L470.22 295.68 L472.33 296.38 L474.46 297.05 L476.60 297.70 L478.74 298.32 L480.89 298.94 L483.03 299.55 L485.18 300.16 L487.33 300.75 L489.48 301.33 L491.64 301.91 L493.80 302.48 L495.95 303.05 L498.11 303.63 L500.26 304.20 L502.42 304.77 L504.58 305.34 L506.74 305.90 L508.90 306.46 L511.06 307.01 L513.22 307.56 L515.39 308.10 L517.55 308.63 L519.72 309.17 L521.89 309.70 L524.05 310.23 L526.22 310.75 L528.39 311.27 L530.57 311.78 L532.74 312.28 L534.91 312.78 L537.09 313.27 L539.27 313.74 L541.45 314.21 L543.63 314.68 L545.82 315.14 L548.00 315.60 L550.19 316.06 L552.37 316.50 L554.56 316.94 L556.75 317.36 L558.95 317.77 L561.14 318.16 L563.34 318.53 L565.54 318.89 L567.74 319.22 L569.95 319.55 L572.16 319.87 L574.37 320.17 L576.58 320.47 L578.79 320.76 L581.01 321.04 L583.22 321.31 L585.44 321.57 L587.66 321.83 L589.87 322.09 L592.09 322.33 L594.31 322.56 L596.53 322.79 L598.75 323.00" stroke="#8778B3" stroke-width="3.30" />
<path d="M399.80 224.50 L399.89 226.52 L400.05 228.52 L400.26 230.50 L400.57 232.48 L401.00 234.45 L401.51 236.40 L402.10 238.35 L402.73 240.26 L403.38 242.15 L404.06 244.02 L404.84 245.87 L405.69 247.70 L406.61 249.51 L407.58 251.29 L408.59 253.04 L409.63 254.74 L410.72 256.39 L411.87 258.02 L413.09 259.61 L414.37 261.18 L415.68 262.72 L417.02 264.24 L418.38 265.74 L419.74 267.22 L421.10 268.68 L422.51 270.13 L423.94 271.55 L425.42 272.91 L426.94 274.20 L428.49 275.44 L430.07 276.66 L431.68 277.85 L433.31 279.02 L434.97 280.17 L436.64 281.29 L438.33 282.40 L440.03 283.49 L441.73 284.57 L443.44 285.64 L445.16 286.70 L446.87 287.75 L448.58 288.81 L450.29 289.86 L452.02 290.89 L453.77 291.88 L455.55 292.80 L457.35 293.66 L459.18 294.49 L461.02 295.29 L462.88 296.06 L464.76 296.80 L466.64 297.51 L468.53 298.19 L470.42 298.84 L472.33 299.47 L474.25 300.06 L476.17 300.63 L478.11 301.18 L480.04 301.72 L481.98 302.26 L483.92 302.79 L485.85 303.32 L487.79 303.83 L489.74 304.34 L491.69 304.83 L493.64 305.29 L495.60 305.73 L497.56 306.15 L499.52 306.55 L501.49 306.93 L503.47 307.31 L505.44 307.67" stroke="#000" stroke-width="3.30" />
<path d="M505.15 309.25 L507.13 309.61 L509.11 309.96 L511.09 310.32 L513.07 310.67 L515.04 311.03 L517.01 311.39 L518.99 311.76 L520.96 312.12 L522.94 312.48 L524.92 312.83 L526.90 313.19 L528.88 313.54 L530.86 313.89 L532.84 314.23 L534.83 314.57 L536.81 314.90 L538.80 315.23 L540.78 315.55 L542.77 315.86 L544.76 316.17 L546.74 316.48 L548.73 316.78 L550.72 317.08 L552.71 317.37 L554.70 317.66 L556.69 317.95 L558.68 318.23 L560.67 318.51 L562.66 318.79 L564.65 319.07 L566.64 319.34 L568.63 319.61 L570.62 319.88 L572.62 320.15 L574.61 320.41 L576.60 320.68 L578.60 320.93 L580.59 321.19 L582.59 321.44 L584.59 321.68 L586.58 321.92 L588.58 322.15 L590.59 322.37 L592.59 322.59 L594.59 322.80 L596.59 323.00 L598.59 323.19 L600.09 323.34" stroke="#000" stroke-width="6.50" />
<path d="M628.30 194.30 L628.30 303.80 L629.00 304.20 L630.20 302.40 L632.00 301.20 L634.00 301.00 L662.50 301.00 L663.50 300.00 L736.50 300.00 L737.50 299.00 L799.50 299.00 L800.50 298.00 L829.50 298.00" stroke="#5E81B5" stroke-width="4.00" />
<path d="M628.65 194.30 L628.65 304.10 L629.20 304.30 L630.20 301.20 L632.00 300.40 L634.00 300.30 L662.50 300.30 L663.50 299.30 L767.50 299.30 L768.50 298.30 L829.50 298.30" stroke="#E19C24" stroke-width="3.30" />
<path d="M628.40 194.30 L628.40 299.35 L767.50 299.35 L768.50 298.30 L829.50 298.30" stroke="#8FB032" stroke-width="3.30" stroke-linejoin="miter"/>
<path d="M627.50 194.30 L627.50 298.85 L640.00 298.85 L767.50 298.35 L829.50 298.10" stroke="#EB6235" stroke-width="3.30" stroke-linejoin="miter"/>
<path d="M626.60 194.30 L626.60 297.35 L672.00 297.35 L829.50 297.70" stroke="#8778B3" stroke-width="3.30" stroke-linejoin="miter"/>
<path d="M640.00 293.40 L672.40 294.30 L673.80 295.20 L747.50 297.10 L775.00 297.45 L830.00 297.45" stroke="#000" stroke-width="3.30" />
<path d="M640.00 291.40 L672.40 292.30 L673.80 293.20 L747.50 295.10 L775.00 295.45 L830.00 295.45" stroke="#000" stroke-width="3.30" />
<path d="M814 296.7 H829.6 V300" stroke="#1d1520" stroke-width="1.6"/>
</g>
<g fill="#717171" opacity="0.13">
<rect x="44" y="59" width="36" height="1"/>
<rect x="83" y="59" width="177" height="1"/>
<rect x="113" y="12.00" width="1" height="133.60"/>
<rect x="49" y="57" width="1" height="2"/>
<rect x="56" y="57" width="1" height="2"/>
<rect x="63" y="57" width="1" height="2"/>
<rect x="70" y="57" width="1" height="2"/>
<rect x="77" y="56" width="1" height="3"/>
<rect x="84" y="57" width="1" height="2"/>
<rect x="91" y="57" width="1" height="2"/>
<rect x="98" y="57" width="1" height="2"/>
<rect x="105" y="57" width="1" height="2"/>
<rect x="120" y="57" width="1" height="2"/>
<rect x="127" y="57" width="1" height="2"/>
<rect x="134" y="57" width="1" height="2"/>
<rect x="141" y="57" width="1" height="2"/>
<rect x="148" y="56" width="1" height="3"/>
<rect x="155" y="57" width="1" height="2"/>
<rect x="162" y="57" width="1" height="2"/>
<rect x="169" y="57" width="1" height="2"/>
<rect x="176" y="57" width="1" height="2"/>
<rect x="184" y="56" width="1" height="3"/>
<rect x="191" y="57" width="1" height="2"/>
<rect x="198" y="57" width="1" height="2"/>
<rect x="205" y="57" width="1" height="2"/>
<rect x="212" y="57" width="1" height="2"/>
<rect x="219" y="56" width="1" height="3"/>
<rect x="226" y="57" width="1" height="2"/>
<rect x="233" y="57" width="1" height="2"/>
<rect x="240" y="57" width="1" height="2"/>
<rect x="247" y="57" width="1" height="2"/>
<rect x="255" y="56" width="1" height="3"/>
<rect x="114" y="15" width="1" height="1"/>
<rect x="114" y="19" width="2" height="1"/>
<rect x="114" y="23" width="1" height="1"/>
<rect x="114" y="27" width="1" height="1"/>
<rect x="114" y="31" width="1" height="1"/>
<rect x="114" y="35" width="1" height="1"/>
<rect x="114" y="39" width="2" height="1"/>
<rect x="114" y="43" width="1" height="1"/>
<rect x="114" y="47" width="1" height="1"/>
<rect x="114" y="51" width="1" height="1"/>
<rect x="114" y="55" width="1" height="1"/>
<rect x="114" y="62" width="1" height="1"/>
<rect x="114" y="66" width="1" height="1"/>
<rect x="114" y="70" width="1" height="1"/>
<rect x="114" y="74" width="1" height="1"/>
<rect x="114" y="78" width="2" height="1"/>
<rect x="114" y="82" width="1" height="1"/>
<rect x="114" y="86" width="1" height="1"/>
<rect x="114" y="90" width="1" height="1"/>
<rect x="114" y="94" width="1" height="1"/>
<rect x="114" y="98" width="2" height="1"/>
<rect x="114" y="102" width="1" height="1"/>
<rect x="114" y="106" width="1" height="1"/>
<rect x="114" y="109" width="1" height="1"/>
<rect x="114" y="113" width="1" height="1"/>
<rect x="114" y="117" width="2" height="1"/>
<rect x="114" y="121" width="1" height="1"/>
<rect x="114" y="125" width="1" height="1"/>
<rect x="114" y="129" width="1" height="1"/>
<rect x="114" y="133" width="1" height="1"/>
<rect x="114" y="137" width="2" height="1"/>
<rect x="114" y="141" width="1" height="1"/>
<rect x="114" y="145" width="1" height="1"/>
<rect x="272" y="59" width="216" height="1"/>
<rect x="341" y="12.00" width="1" height="133.60"/>
<rect x="277" y="57" width="1" height="2"/>
<rect x="284" y="57" width="1" height="2"/>
<rect x="291" y="57" width="1" height="2"/>
<rect x="298" y="57" width="1" height="2"/>
<rect x="305" y="56" width="1" height="3"/>
<rect x="312" y="57" width="1" height="2"/>
<rect x="319" y="57" width="1" height="2"/>
<rect x="326" y="57" width="1" height="2"/>
<rect x="333" y="57" width="1" height="2"/>
<rect x="348" y="57" width="1" height="2"/>
<rect x="355" y="57" width="1" height="2"/>
<rect x="362" y="57" width="1" height="2"/>
<rect x="369" y="57" width="1" height="2"/>
<rect x="376" y="56" width="1" height="3"/>
<rect x="383" y="57" width="1" height="2"/>
<rect x="390" y="57" width="1" height="2"/>
<rect x="397" y="57" width="1" height="2"/>
<rect x="404" y="57" width="1" height="2"/>
<rect x="412" y="56" width="1" height="3"/>
<rect x="419" y="57" width="1" height="2"/>
<rect x="426" y="57" width="1" height="2"/>
<rect x="433" y="57" width="1" height="2"/>
<rect x="440" y="57" width="1" height="2"/>
<rect x="447" y="56" width="1" height="3"/>
<rect x="454" y="57" width="1" height="2"/>
<rect x="461" y="57" width="1" height="2"/>
<rect x="468" y="57" width="1" height="2"/>
<rect x="475" y="57" width="1" height="2"/>
<rect x="483" y="56" width="1" height="3"/>
<rect x="342" y="15" width="1" height="1"/>
<rect x="342" y="19" width="2" height="1"/>
<rect x="342" y="23" width="1" height="1"/>
<rect x="342" y="27" width="1" height="1"/>
<rect x="342" y="31" width="1" height="1"/>
<rect x="342" y="35" width="1" height="1"/>
<rect x="342" y="39" width="2" height="1"/>
<rect x="342" y="43" width="1" height="1"/>
<rect x="342" y="47" width="1" height="1"/>
<rect x="342" y="51" width="1" height="1"/>
<rect x="342" y="55" width="1" height="1"/>
<rect x="342" y="62" width="1" height="1"/>
<rect x="342" y="66" width="1" height="1"/>
<rect x="342" y="70" width="1" height="1"/>
<rect x="342" y="74" width="1" height="1"/>
<rect x="342" y="78" width="2" height="1"/>
<rect x="342" y="82" width="1" height="1"/>
<rect x="342" y="86" width="1" height="1"/>
<rect x="342" y="90" width="1" height="1"/>
<rect x="342" y="94" width="1" height="1"/>
<rect x="342" y="98" width="2" height="1"/>
<rect x="342" y="102" width="1" height="1"/>
<rect x="342" y="106" width="1" height="1"/>
<rect x="342" y="109" width="1" height="1"/>
<rect x="342" y="113" width="1" height="1"/>
<rect x="342" y="117" width="2" height="1"/>
<rect x="342" y="121" width="1" height="1"/>
<rect x="342" y="125" width="1" height="1"/>
<rect x="342" y="129" width="1" height="1"/>
<rect x="342" y="133" width="1" height="1"/>
<rect x="342" y="137" width="2" height="1"/>
<rect x="342" y="141" width="1" height="1"/>
<rect x="342" y="145" width="1" height="1"/>
<rect x="500" y="59" width="36" height="1"/>
<rect x="539" y="59" width="177" height="1"/>
<rect x="569" y="12.00" width="1" height="133.60"/>
<rect x="505" y="57" width="1" height="2"/>
<rect x="512" y="57" width="1" height="2"/>
<rect x="519" y="57" width="1" height="2"/>
<rect x="526" y="57" width="1" height="2"/>
<rect x="533" y="56" width="1" height="3"/>
<rect x="540" y="57" width="1" height="2"/>
<rect x="547" y="57" width="1" height="2"/>
<rect x="554" y="57" width="1" height="2"/>
<rect x="561" y="57" width="1" height="2"/>
<rect x="576" y="57" width="1" height="2"/>
<rect x="583" y="57" width="1" height="2"/>
<rect x="590" y="57" width="1" height="2"/>
<rect x="597" y="57" width="1" height="2"/>
<rect x="604" y="56" width="1" height="3"/>
<rect x="611" y="57" width="1" height="2"/>
<rect x="618" y="57" width="1" height="2"/>
<rect x="625" y="57" width="1" height="2"/>
<rect x="632" y="57" width="1" height="2"/>
<rect x="640" y="56" width="1" height="3"/>
<rect x="647" y="57" width="1" height="2"/>
<rect x="654" y="57" width="1" height="2"/>
<rect x="661" y="57" width="1" height="2"/>
<rect x="668" y="57" width="1" height="2"/>
<rect x="675" y="56" width="1" height="3"/>
<rect x="682" y="57" width="1" height="2"/>
<rect x="689" y="57" width="1" height="2"/>
<rect x="696" y="57" width="1" height="2"/>
<rect x="703" y="57" width="1" height="2"/>
<rect x="711" y="56" width="1" height="3"/>
<rect x="570" y="15" width="1" height="1"/>
<rect x="570" y="19" width="2" height="1"/>
<rect x="570" y="23" width="1" height="1"/>
<rect x="570" y="27" width="1" height="1"/>
<rect x="570" y="31" width="1" height="1"/>
<rect x="570" y="35" width="1" height="1"/>
<rect x="570" y="39" width="2" height="1"/>
<rect x="570" y="43" width="1" height="1"/>
<rect x="570" y="47" width="1" height="1"/>
<rect x="570" y="51" width="1" height="1"/>
<rect x="570" y="55" width="1" height="1"/>
<rect x="570" y="62" width="1" height="1"/>
<rect x="570" y="66" width="1" height="1"/>
<rect x="570" y="70" width="1" height="1"/>
<rect x="570" y="74" width="1" height="1"/>
<rect x="570" y="78" width="2" height="1"/>
<rect x="570" y="82" width="1" height="1"/>
<rect x="570" y="86" width="1" height="1"/>
<rect x="570" y="90" width="1" height="1"/>
<rect x="570" y="94" width="1" height="1"/>
<rect x="570" y="98" width="2" height="1"/>
<rect x="570" y="102" width="1" height="1"/>
<rect x="570" y="106" width="1" height="1"/>
<rect x="570" y="109" width="1" height="1"/>
<rect x="570" y="113" width="1" height="1"/>
<rect x="570" y="117" width="2" height="1"/>
<rect x="570" y="121" width="1" height="1"/>
<rect x="570" y="125" width="1" height="1"/>
<rect x="570" y="129" width="1" height="1"/>
<rect x="570" y="133" width="1" height="1"/>
<rect x="570" y="137" width="2" height="1"/>
<rect x="570" y="141" width="1" height="1"/>
<rect x="570" y="145" width="1" height="1"/>
<rect x="728" y="118" width="36" height="1"/>
<rect x="767" y="118" width="177" height="1"/>
<rect x="797" y="10.00" width="1" height="133.60"/>
<rect x="733" y="116" width="1" height="2"/>
<rect x="740" y="116" width="1" height="2"/>
<rect x="747" y="116" width="1" height="2"/>
<rect x="754" y="116" width="1" height="2"/>
<rect x="761" y="116" width="1" height="2"/>
<rect x="768" y="116" width="1" height="2"/>
<rect x="775" y="116" width="1" height="2"/>
<rect x="782" y="116" width="1" height="2"/>
<rect x="789" y="116" width="1" height="2"/>
<rect x="804" y="116" width="1" height="2"/>
<rect x="811" y="116" width="1" height="2"/>
<rect x="818" y="116" width="1" height="2"/>
<rect x="825" y="116" width="1" height="2"/>
<rect x="832" y="116" width="1" height="2"/>
<rect x="839" y="116" width="1" height="2"/>
<rect x="846" y="116" width="1" height="2"/>
<rect x="853" y="116" width="1" height="2"/>
<rect x="860" y="116" width="1" height="2"/>
<rect x="868" y="116" width="1" height="2"/>
<rect x="875" y="116" width="1" height="2"/>
<rect x="882" y="116" width="1" height="2"/>
<rect x="889" y="116" width="1" height="2"/>
<rect x="896" y="116" width="1" height="2"/>
<rect x="903" y="116" width="1" height="2"/>
<rect x="910" y="116" width="1" height="2"/>
<rect x="917" y="116" width="1" height="2"/>
<rect x="924" y="116" width="1" height="2"/>
<rect x="931" y="116" width="1" height="2"/>
<rect x="939" y="116" width="1" height="2"/>
<rect x="798" y="13" width="1" height="1"/>
<rect x="798" y="18" width="2" height="1"/>
<rect x="798" y="23" width="1" height="1"/>
<rect x="798" y="28" width="1" height="1"/>
<rect x="798" y="33" width="1" height="1"/>
<rect x="798" y="38" width="1" height="1"/>
<rect x="798" y="43" width="2" height="1"/>
<rect x="798" y="48" width="1" height="1"/>
<rect x="798" y="53" width="1" height="1"/>
<rect x="798" y="58" width="1" height="1"/>
<rect x="798" y="63" width="1" height="1"/>
<rect x="798" y="68" width="2" height="1"/>
<rect x="798" y="73" width="1" height="1"/>
<rect x="798" y="78" width="1" height="1"/>
<rect x="798" y="83" width="1" height="1"/>
<rect x="798" y="88" width="1" height="1"/>
<rect x="798" y="93" width="2" height="1"/>
<rect x="798" y="98" width="1" height="1"/>
<rect x="798" y="103" width="1" height="1"/>
<rect x="798" y="108" width="1" height="1"/>
<rect x="798" y="113" width="1" height="1"/>
<rect x="798" y="123" width="1" height="1"/>
<rect x="798" y="128" width="1" height="1"/>
<rect x="798" y="133" width="1" height="1"/>
<rect x="798" y="138" width="1" height="1"/>
<rect x="798" y="143" width="2" height="1"/>
<rect x="158" y="276" width="216" height="1"/>
<rect x="227" y="194.30" width="1" height="134.30"/>
<rect x="163" y="274" width="1" height="2"/>
<rect x="170" y="274" width="1" height="2"/>
<rect x="177" y="274" width="1" height="2"/>
<rect x="184" y="274" width="1" height="2"/>
<rect x="191" y="274" width="1" height="2"/>
<rect x="198" y="274" width="1" height="2"/>
<rect x="205" y="274" width="1" height="2"/>
<rect x="212" y="274" width="1" height="2"/>
<rect x="219" y="274" width="1" height="2"/>
<rect x="234" y="274" width="1" height="2"/>
<rect x="241" y="274" width="1" height="2"/>
<rect x="248" y="274" width="1" height="2"/>
<rect x="255" y="274" width="1" height="2"/>
<rect x="262" y="274" width="1" height="2"/>
<rect x="269" y="274" width="1" height="2"/>
<rect x="276" y="274" width="1" height="2"/>
<rect x="283" y="274" width="1" height="2"/>
<rect x="290" y="274" width="1" height="2"/>
<rect x="298" y="274" width="1" height="2"/>
<rect x="305" y="274" width="1" height="2"/>
<rect x="312" y="274" width="1" height="2"/>
<rect x="319" y="274" width="1" height="2"/>
<rect x="326" y="274" width="1" height="2"/>
<rect x="333" y="274" width="1" height="2"/>
<rect x="340" y="274" width="1" height="2"/>
<rect x="347" y="274" width="1" height="2"/>
<rect x="354" y="274" width="1" height="2"/>
<rect x="361" y="274" width="1" height="2"/>
<rect x="369" y="274" width="1" height="2"/>
<rect x="228" y="198" width="1" height="1"/>
<rect x="228" y="202" width="2" height="1"/>
<rect x="228" y="205" width="1" height="1"/>
<rect x="228" y="209" width="1" height="1"/>
<rect x="228" y="213" width="1" height="1"/>
<rect x="228" y="217" width="1" height="1"/>
<rect x="228" y="221" width="2" height="1"/>
<rect x="228" y="225" width="1" height="1"/>
<rect x="228" y="229" width="1" height="1"/>
<rect x="228" y="233" width="1" height="1"/>
<rect x="228" y="237" width="1" height="1"/>
<rect x="228" y="240" width="2" height="1"/>
<rect x="228" y="244" width="1" height="1"/>
<rect x="228" y="248" width="1" height="1"/>
<rect x="228" y="252" width="1" height="1"/>
<rect x="228" y="256" width="1" height="1"/>
<rect x="228" y="260" width="2" height="1"/>
<rect x="228" y="264" width="1" height="1"/>
<rect x="228" y="268" width="1" height="1"/>
<rect x="228" y="272" width="1" height="1"/>
<rect x="228" y="279" width="2" height="1"/>
<rect x="228" y="283" width="1" height="1"/>
<rect x="228" y="287" width="1" height="1"/>
<rect x="228" y="291" width="1" height="1"/>
<rect x="228" y="295" width="1" height="1"/>
<rect x="228" y="299" width="2" height="1"/>
<rect x="228" y="303" width="1" height="1"/>
<rect x="228" y="307" width="1" height="1"/>
<rect x="228" y="311" width="1" height="1"/>
<rect x="228" y="314" width="1" height="1"/>
<rect x="228" y="318" width="2" height="1"/>
<rect x="228" y="322" width="1" height="1"/>
<rect x="228" y="326" width="1" height="1"/>
<rect x="386" y="221" width="216" height="1"/>
<rect x="455" y="194.30" width="1" height="134.30"/>
<rect x="391" y="220" width="1" height="1"/>
<rect x="398" y="220" width="1" height="1"/>
<rect x="405" y="220" width="1" height="1"/>
<rect x="412" y="220" width="1" height="1"/>
<rect x="419" y="219" width="1" height="2"/>
<rect x="426" y="220" width="1" height="1"/>
<rect x="433" y="220" width="1" height="1"/>
<rect x="440" y="220" width="1" height="1"/>
<rect x="447" y="220" width="1" height="1"/>
<rect x="462" y="220" width="1" height="1"/>
<rect x="469" y="220" width="1" height="1"/>
<rect x="476" y="220" width="1" height="1"/>
<rect x="483" y="220" width="1" height="1"/>
<rect x="490" y="219" width="1" height="2"/>
<rect x="497" y="220" width="1" height="1"/>
<rect x="504" y="220" width="1" height="1"/>
<rect x="511" y="220" width="1" height="1"/>
<rect x="518" y="220" width="1" height="1"/>
<rect x="526" y="219" width="1" height="2"/>
<rect x="533" y="220" width="1" height="1"/>
<rect x="540" y="220" width="1" height="1"/>
<rect x="547" y="220" width="1" height="1"/>
<rect x="554" y="220" width="1" height="1"/>
<rect x="561" y="219" width="1" height="2"/>
<rect x="568" y="220" width="1" height="1"/>
<rect x="575" y="220" width="1" height="1"/>
<rect x="582" y="220" width="1" height="1"/>
<rect x="589" y="220" width="1" height="1"/>
<rect x="597" y="219" width="1" height="2"/>
<rect x="456" y="198" width="2" height="1"/>
<rect x="456" y="203" width="1" height="1"/>
<rect x="456" y="207" width="1" height="1"/>
<rect x="456" y="212" width="1" height="1"/>
<rect x="456" y="216" width="1" height="1"/>
<rect x="456" y="225" width="1" height="1"/>
<rect x="456" y="230" width="1" height="1"/>
<rect x="456" y="234" width="1" height="1"/>
<rect x="456" y="239" width="1" height="1"/>
<rect x="456" y="243" width="2" height="1"/>
<rect x="456" y="248" width="1" height="1"/>
<rect x="456" y="252" width="1" height="1"/>
<rect x="456" y="257" width="1" height="1"/>
<rect x="456" y="261" width="1" height="1"/>
<rect x="456" y="266" width="2" height="1"/>
<rect x="456" y="270" width="1" height="1"/>
<rect x="456" y="275" width="1" height="1"/>
<rect x="456" y="279" width="1" height="1"/>
<rect x="456" y="284" width="1" height="1"/>
<rect x="456" y="288" width="2" height="1"/>
<rect x="456" y="293" width="1" height="1"/>
<rect x="456" y="297" width="1" height="1"/>
<rect x="456" y="302" width="1" height="1"/>
<rect x="456" y="306" width="1" height="1"/>
<rect x="456" y="311" width="2" height="1"/>
<rect x="456" y="315" width="1" height="1"/>
<rect x="456" y="320" width="1" height="1"/>
<rect x="456" y="324" width="1" height="1"/>
<rect x="614" y="303" width="216" height="2"/>
<rect x="681" y="194.30" width="1" height="134.30"/>
<rect x="622" y="302" width="1" height="1"/>
<rect x="629" y="302" width="1" height="1"/>
<rect x="636" y="302" width="1" height="1"/>
<rect x="644" y="301" width="1" height="2"/>
<rect x="651" y="302" width="1" height="1"/>
<rect x="658" y="302" width="1" height="1"/>
<rect x="666" y="302" width="1" height="1"/>
<rect x="673" y="302" width="1" height="1"/>
<rect x="688" y="302" width="1" height="1"/>
<rect x="695" y="302" width="1" height="1"/>
<rect x="703" y="302" width="1" height="1"/>
<rect x="710" y="302" width="1" height="1"/>
<rect x="717" y="301" width="1" height="2"/>
<rect x="725" y="302" width="1" height="1"/>
<rect x="732" y="302" width="1" height="1"/>
<rect x="739" y="302" width="1" height="1"/>
<rect x="747" y="302" width="1" height="1"/>
<rect x="754" y="301" width="1" height="2"/>
<rect x="761" y="302" width="1" height="1"/>
<rect x="769" y="302" width="1" height="1"/>
<rect x="776" y="302" width="1" height="1"/>
<rect x="784" y="302" width="1" height="1"/>
<rect x="791" y="301" width="1" height="2"/>
<rect x="798" y="302" width="1" height="1"/>
<rect x="806" y="302" width="1" height="1"/>
<rect x="813" y="302" width="1" height="1"/>
<rect x="820" y="302" width="1" height="1"/>
<rect x="828" y="301" width="1" height="2"/>
<rect x="682" y="195" width="2" height="1"/>
<rect x="682" y="201" width="2" height="1"/>
<rect x="682" y="207" width="2" height="1"/>
<rect x="682" y="213" width="2" height="1"/>
<rect x="682" y="219" width="2" height="1"/>
<rect x="682" y="225" width="2" height="1"/>
<rect x="682" y="232" width="2" height="1"/>
<rect x="682" y="238" width="2" height="1"/>
<rect x="682" y="244" width="2" height="1"/>
<rect x="682" y="250" width="2" height="1"/>
<rect x="682" y="256" width="2" height="1"/>
<rect x="682" y="262" width="2" height="1"/>
<rect x="682" y="268" width="2" height="1"/>
<rect x="682" y="274" width="2" height="1"/>
<rect x="682" y="280" width="2" height="1"/>
<rect x="682" y="286" width="2" height="1"/>
<rect x="682" y="292" width="2" height="1"/>
<rect x="682" y="298" width="2" height="1"/>
<rect x="682" y="310" width="2" height="1"/>
<rect x="682" y="316" width="2" height="1"/>
<rect x="682" y="322" width="2" height="1"/>
<rect x="682" y="328" width="2" height="1"/>
</g>
<rect x="304.9" y="60.6" width="1.1" height="8.5" fill="#000"/>
<path d="M306 62 L309.5 66.5" stroke="#000" stroke-width="1.2" fill="none" opacity="0.6"/>
<rect x="299.5" y="62.8" width="1.9" height="2.4" fill="#000"/>
<ellipse cx="337.95" cy="98.4" rx="1.25" ry="2.6" stroke="#000" stroke-width="0.95" fill="none"/>
<path d="M331.2 96.8 L332.3 95.6 V101.2" stroke="#000" stroke-width="0.9" fill="none"/>
</svg>
</body></html>
